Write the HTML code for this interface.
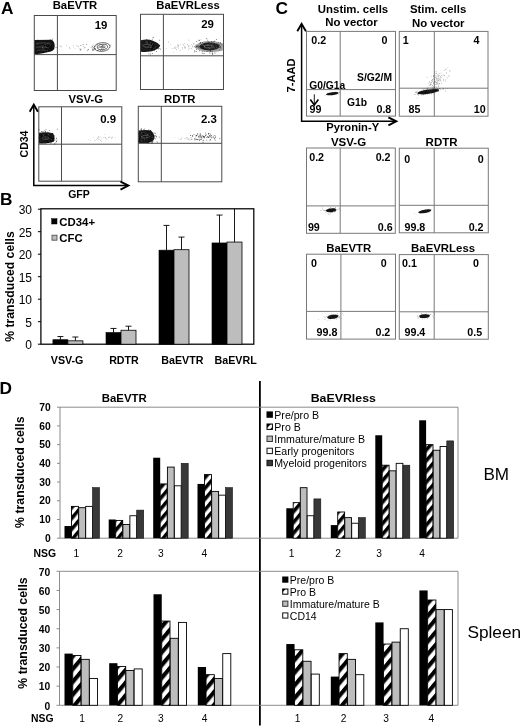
<!DOCTYPE html>
<html lang="en"><head><meta charset="utf-8"><title>Figure</title>
<style>html,body{margin:0;padding:0;background:#fff}body{width:520px;height:728px;overflow:hidden}svg{display:block}text{font-family:"Liberation Sans",Arial,sans-serif;fill:#000}</style>
</head><body>
<svg width="520" height="728" viewBox="0 0 520 728">
<defs><pattern id="hatch" patternUnits="userSpaceOnUse" width="6.9" height="6.9" patternTransform="rotate(-50)"><rect width="6.9" height="6.9" fill="#fff"/><rect y="0" width="6.9" height="3.5" fill="#000"/></pattern><pattern id="hatchS" patternUnits="userSpaceOnUse" width="8.2" height="8.2" patternTransform="rotate(-50)"><rect width="8.2" height="8.2" fill="#fff"/><rect y="0" width="8.2" height="4.1" fill="#000"/></pattern><pattern id="hatch2" patternUnits="userSpaceOnUse" width="5" height="5" patternTransform="rotate(-45)"><rect width="5" height="5" fill="#fff"/><rect y="0" width="5" height="2.4" fill="#000"/></pattern></defs>
<rect x="0" y="0" width="520" height="728" fill="#fff"/>
<g id="panelA">
<text x="0.9" y="13.7" font-size="17.3" font-weight="bold">A</text>
<text x="75" y="9.4" font-size="11.3" font-weight="bold" text-anchor="middle">BaEVTR</text>
<rect x="34.3" y="15.5" width="81.9" height="75" fill="none" stroke="#4a4a4a" stroke-width="1"/>
<line x1="57.4" y1="15.5" x2="57.4" y2="90.5" stroke="#4a4a4a" stroke-width="1"/>
<line x1="34.3" y1="54.6" x2="116.2" y2="54.6" stroke="#4a4a4a" stroke-width="1"/>
<text x="107.3" y="29.2" font-size="11.4" font-weight="bold" text-anchor="end">19</text>
<text x="188" y="9.4" font-size="11.3" font-weight="bold" text-anchor="middle">BaEVRLess</text>
<rect x="140.5" y="14.3" width="83" height="75.2" fill="none" stroke="#4a4a4a" stroke-width="1"/>
<line x1="163.4" y1="14.3" x2="163.4" y2="89.5" stroke="#4a4a4a" stroke-width="1"/>
<line x1="140.5" y1="55.8" x2="223.5" y2="55.8" stroke="#4a4a4a" stroke-width="1"/>
<text x="213.8" y="28.2" font-size="11.4" font-weight="bold" text-anchor="end">29</text>
<text x="85.7" y="103" font-size="11.3" font-weight="bold" text-anchor="middle">VSV-G</text>
<rect x="38.8" y="106.8" width="83" height="74.4" fill="none" stroke="#4a4a4a" stroke-width="1"/>
<line x1="61.5" y1="106.8" x2="61.5" y2="181.2" stroke="#4a4a4a" stroke-width="1"/>
<line x1="38.8" y1="144.2" x2="121.8" y2="144.2" stroke="#4a4a4a" stroke-width="1"/>
<text x="116.1" y="122.7" font-size="11.4" font-weight="bold" text-anchor="end">0.9</text>
<text x="179.8" y="103.3" font-size="11.3" font-weight="bold" text-anchor="middle">RDTR</text>
<rect x="138.3" y="106.3" width="83.5" height="75.5" fill="none" stroke="#4a4a4a" stroke-width="1"/>
<line x1="161.3" y1="106.3" x2="161.3" y2="181.8" stroke="#4a4a4a" stroke-width="1"/>
<line x1="138.3" y1="143.3" x2="221.8" y2="143.3" stroke="#4a4a4a" stroke-width="1"/>
<text x="216.8" y="122.7" font-size="11.4" font-weight="bold" text-anchor="end">2.3</text>
<path d="M34.6 40 L51.5 39.7 Q54.8 41.5 54.7 46 Q54.6 50 51 51.6 L43 53.2 L38 53.9 L34.6 53.9Z" fill="#161616"/>
<path d="M44.32 47.94h0.8v0.8h-0.8zM44.47 44.97h0.8v0.8h-0.8zM40.95 45.33h0.8v0.8h-0.8zM51.16 47.63h0.8v0.8h-0.8zM50.78 47h0.8v0.8h-0.8zM47.57 46.77h0.8v0.8h-0.8zM37.27 49.18h0.8v0.8h-0.8zM48.13 47.9h0.8v0.8h-0.8zM37.14 39.82h0.8v0.8h-0.8zM41.15 44.41h0.8v0.8h-0.8zM47.13 45.93h0.8v0.8h-0.8zM48.2 43.79h0.8v0.8h-0.8zM47.14 47.52h0.8v0.8h-0.8zM42.29 52.28h0.8v0.8h-0.8zM48.38 50.41h0.8v0.8h-0.8zM42.5 43.44h0.8v0.8h-0.8zM43.88 45.72h0.8v0.8h-0.8zM48.76 46.99h0.8v0.8h-0.8zM43.36 42.66h0.8v0.8h-0.8zM43 50.5h0.8v0.8h-0.8zM41.56 46.98h0.8v0.8h-0.8zM47.73 40.74h0.8v0.8h-0.8zM45.84 50.8h0.8v0.8h-0.8zM35.53 44.94h0.8v0.8h-0.8zM45.07 43.16h0.8v0.8h-0.8zM48.09 45.88h0.8v0.8h-0.8zM38.28 49.08h0.8v0.8h-0.8zM48.95 49.51h0.8v0.8h-0.8zM52.8 47.4h0.8v0.8h-0.8zM46.2 41.42h0.8v0.8h-0.8zM48.68 43.9h0.8v0.8h-0.8zM43.34 41.55h0.8v0.8h-0.8zM40.76 44.19h0.8v0.8h-0.8zM52.04 38.79h0.8v0.8h-0.8zM38.31 46.96h0.8v0.8h-0.8zM52.82 48.18h0.8v0.8h-0.8zM47.39 43.45h0.8v0.8h-0.8zM40 49.62h0.8v0.8h-0.8zM51.11 46.67h0.8v0.8h-0.8zM46.83 47.66h0.8v0.8h-0.8zM53.57 48.33h0.8v0.8h-0.8zM48.19 48.07h0.8v0.8h-0.8zM37.76 50.71h0.8v0.8h-0.8zM50.38 48.01h0.8v0.8h-0.8zM35.73 43.82h0.8v0.8h-0.8zM49.81 39.58h0.8v0.8h-0.8zM44.68 49.77h0.8v0.8h-0.8zM39.04 51.9h0.8v0.8h-0.8zM48.36 45.56h0.8v0.8h-0.8zM47.22 48.44h0.8v0.8h-0.8zM46.2 50.22h0.8v0.8h-0.8zM42.29 44.61h0.8v0.8h-0.8zM50.81 46.2h0.8v0.8h-0.8zM41.2 49.51h0.8v0.8h-0.8zM52.93 44.5h0.8v0.8h-0.8zM38.7 45.61h0.8v0.8h-0.8zM44.85 45.03h0.8v0.8h-0.8zM52.62 42.4h0.8v0.8h-0.8zM51.9 41.53h0.8v0.8h-0.8zM41.66 48.37h0.8v0.8h-0.8zM51.24 49.19h0.8v0.8h-0.8zM47.33 46.61h0.8v0.8h-0.8zM46.36 48.17h0.8v0.8h-0.8zM44.72 47.1h0.8v0.8h-0.8zM48.46 46.1h0.8v0.8h-0.8zM49.42 48.14h0.8v0.8h-0.8zM55.65 47.27h0.8v0.8h-0.8zM43.46 44.76h0.8v0.8h-0.8zM45.53 49.43h0.8v0.8h-0.8z" fill="#000" opacity="0.75"/>
<path d="M42.3 46.81h0.7v0.7h-0.7zM39.15 46.38h0.7v0.7h-0.7zM45.24 46.37h0.7v0.7h-0.7zM41.93 47.62h0.7v0.7h-0.7zM44.78 44.08h0.7v0.7h-0.7zM41.43 45.35h0.7v0.7h-0.7zM42.75 45.46h0.7v0.7h-0.7zM47.68 42.14h0.7v0.7h-0.7zM43.38 48.51h0.7v0.7h-0.7zM47.07 50.12h0.7v0.7h-0.7zM36.84 44.59h0.7v0.7h-0.7zM42.29 47.52h0.7v0.7h-0.7z" fill="#8a8a8a" opacity="0.75"/>
<path d="M36 43.5 Q44 42 50.5 44 M36 47.3 Q43 46.3 49 48 M37 50.3 Q42 49.6 46 50.6" fill="none" stroke="#777" stroke-width="0.45"/>
<ellipse cx="102.1" cy="47" rx="7.9" ry="4.3" fill="none" stroke="#3a3a3a" stroke-width="0.75" transform="rotate(-5 102.1 47)"/>
<ellipse cx="102.45" cy="47" rx="5.2" ry="2.6" fill="none" stroke="#3a3a3a" stroke-width="0.75" transform="rotate(-5 102.45 47)"/>
<ellipse cx="102.8" cy="47" rx="2.5" ry="0.9" fill="none" stroke="#3a3a3a" stroke-width="0.75" transform="rotate(-5 102.8 47)"/>
<path d="M99.72 44.24h0.72v0.72h-0.72zM97.08 44.16h0.72v0.72h-0.72zM93.78 49.53h0.72v0.72h-0.72zM91.67 47.52h0.72v0.72h-0.72zM97.82 47.42h0.72v0.72h-0.72zM92.06 50.21h0.72v0.72h-0.72zM99.46 46.55h0.72v0.72h-0.72zM110.48 44.85h0.72v0.72h-0.72zM98.58 46.61h0.72v0.72h-0.72zM93.5 48.55h0.72v0.72h-0.72zM94.08 48.42h0.72v0.72h-0.72zM82.71 44.12h0.72v0.72h-0.72zM96.64 45.21h0.72v0.72h-0.72zM85.97 44.2h0.72v0.72h-0.72zM100.87 48.63h0.72v0.72h-0.72zM102.21 45.26h0.72v0.72h-0.72zM92.65 44.86h0.72v0.72h-0.72zM97.62 50.32h0.72v0.72h-0.72zM86.85 50.26h0.72v0.72h-0.72zM99.06 46.78h0.72v0.72h-0.72zM79.82 49.95h0.72v0.72h-0.72zM92.01 45.93h0.72v0.72h-0.72zM95.24 47.96h0.72v0.72h-0.72zM102.38 45.1h0.72v0.72h-0.72zM100.03 50.11h0.72v0.72h-0.72zM102.08 46.78h0.72v0.72h-0.72zM87.8 49.18h0.72v0.72h-0.72zM93.39 47.39h0.72v0.72h-0.72zM101.9 46.61h0.72v0.72h-0.72zM77.71 46.37h0.72v0.72h-0.72zM80.59 48.78h0.72v0.72h-0.72zM94.7 45.92h0.72v0.72h-0.72zM92.58 48.81h0.72v0.72h-0.72zM93.15 49.79h0.72v0.72h-0.72zM92.24 49.22h0.72v0.72h-0.72zM102.33 50.36h0.72v0.72h-0.72zM88.27 48.9h0.72v0.72h-0.72zM80.45 44.97h0.72v0.72h-0.72zM79.88 49.28h0.72v0.72h-0.72zM84.63 47.11h0.72v0.72h-0.72z" fill="#222" opacity="0.75"/>
<path d="M72.94 46.63h0.66v0.66h-0.66zM69.35 47.02h0.66v0.66h-0.66zM90.79 46.74h0.66v0.66h-0.66zM79.45 48.17h0.66v0.66h-0.66zM72.89 44.78h0.66v0.66h-0.66zM69.67 48.28h0.66v0.66h-0.66zM59.85 45.77h0.66v0.66h-0.66zM83.74 47.86h0.66v0.66h-0.66zM74.74 47.88h0.66v0.66h-0.66zM76.16 44.9h0.66v0.66h-0.66zM60.59 45.71h0.66v0.66h-0.66zM82.97 45.82h0.66v0.66h-0.66zM66.55 45.51h0.66v0.66h-0.66zM60.88 46.49h0.66v0.66h-0.66z" fill="#444" opacity="0.6"/>
<path d="M140.8 40.2 Q148 38.6 153 40.8 Q158.5 43 160.3 45.8 Q158 49.5 152 51.2 Q146 52.4 140.8 51.8Z" fill="#1c1c1c"/>
<path d="M143.7 46.57h0.8v0.8h-0.8zM146.39 39.19h0.8v0.8h-0.8zM153.22 44.52h0.8v0.8h-0.8zM151.06 43.93h0.8v0.8h-0.8zM153.5 47.79h0.8v0.8h-0.8zM152.93 46.45h0.8v0.8h-0.8zM156.27 47.51h0.8v0.8h-0.8zM151.86 38.73h0.8v0.8h-0.8zM154.08 49.59h0.8v0.8h-0.8zM148.12 43.9h0.8v0.8h-0.8zM159.3 39.77h0.8v0.8h-0.8zM151.94 53.16h0.8v0.8h-0.8zM144.96 47.61h0.8v0.8h-0.8zM159.03 45.02h0.8v0.8h-0.8zM152.41 48.29h0.8v0.8h-0.8zM145.07 45.11h0.8v0.8h-0.8zM151.06 48.04h0.8v0.8h-0.8zM149.43 44.77h0.8v0.8h-0.8zM144.52 44.25h0.8v0.8h-0.8zM154.06 45.73h0.8v0.8h-0.8zM145.33 42.71h0.8v0.8h-0.8zM152.79 37.1h0.8v0.8h-0.8zM152.71 46.94h0.8v0.8h-0.8zM158.02 46.77h0.8v0.8h-0.8zM149.26 47.07h0.8v0.8h-0.8zM151.22 43.15h0.8v0.8h-0.8zM156.23 51.19h0.8v0.8h-0.8zM142.59 43.27h0.8v0.8h-0.8zM151.06 45.99h0.8v0.8h-0.8zM147.61 42.28h0.8v0.8h-0.8zM160.2 48.72h0.8v0.8h-0.8zM143.63 41.1h0.8v0.8h-0.8zM158.12 48.57h0.8v0.8h-0.8zM158.7 47.99h0.8v0.8h-0.8zM145.24 46.23h0.8v0.8h-0.8zM149.31 47.07h0.8v0.8h-0.8zM145.96 45h0.8v0.8h-0.8zM151.89 46.61h0.8v0.8h-0.8zM152.79 46.07h0.8v0.8h-0.8zM147.98 47.93h0.8v0.8h-0.8zM149.85 42.76h0.8v0.8h-0.8zM146.47 45.4h0.8v0.8h-0.8zM149.05 45.9h0.8v0.8h-0.8zM149.6 45.96h0.8v0.8h-0.8zM148.93 41.37h0.8v0.8h-0.8zM151.71 48.77h0.8v0.8h-0.8zM151.77 44.79h0.8v0.8h-0.8zM151.83 42.31h0.8v0.8h-0.8zM144.95 47.77h0.8v0.8h-0.8zM144.4 50.45h0.8v0.8h-0.8zM147.69 41.02h0.8v0.8h-0.8zM145.78 47.07h0.8v0.8h-0.8zM152.08 45.97h0.8v0.8h-0.8zM157.02 47.66h0.8v0.8h-0.8zM149.5 47.31h0.8v0.8h-0.8zM157.87 48.51h0.8v0.8h-0.8zM154.72 41.93h0.8v0.8h-0.8zM148.86 47.74h0.8v0.8h-0.8zM148.12 48.82h0.8v0.8h-0.8zM152.58 48.31h0.8v0.8h-0.8zM148.54 53.55h0.8v0.8h-0.8zM155.8 44.71h0.8v0.8h-0.8zM150.05 53.7h0.8v0.8h-0.8zM147.88 48.2h0.8v0.8h-0.8zM154.5 45.42h0.8v0.8h-0.8zM143.76 46h0.8v0.8h-0.8zM151.4 49.01h0.8v0.8h-0.8zM153.51 45.48h0.8v0.8h-0.8zM153.87 47.13h0.8v0.8h-0.8zM150.63 45.58h0.8v0.8h-0.8zM148.38 47.6h0.8v0.8h-0.8zM144.33 43.39h0.8v0.8h-0.8zM149.62 40.72h0.8v0.8h-0.8z" fill="#000" opacity="0.7"/>
<path d="M145.91 41.43h0.7v0.7h-0.7zM144.92 46.59h0.7v0.7h-0.7zM149.92 45.34h0.7v0.7h-0.7zM146.72 42.62h0.7v0.7h-0.7zM154.96 46.48h0.7v0.7h-0.7zM152.02 43.69h0.7v0.7h-0.7zM146.91 41.81h0.7v0.7h-0.7zM150.77 47.32h0.7v0.7h-0.7zM150.17 41.93h0.7v0.7h-0.7zM145.13 42.64h0.7v0.7h-0.7zM147.78 45.95h0.7v0.7h-0.7zM150.19 46.85h0.7v0.7h-0.7zM153.66 47.78h0.7v0.7h-0.7zM142.4 44.44h0.7v0.7h-0.7z" fill="#8a8a8a" opacity="0.75"/>
<ellipse cx="147.5" cy="45.8" rx="4.2" ry="1.5" fill="none" stroke="#888" stroke-width="0.45"/>
<path d="M193.5 46.8 Q200 41 209 41 Q218 41 222.9 43.5 V50.5 Q216 52.3 208 52 Q199 51.5 193.5 46.8Z" fill="#555" opacity="0.55"/>
<ellipse cx="209.5" cy="46.5" rx="10" ry="3.9" fill="#262626"/>
<path d="M199.63 42.85h0.84v0.84h-0.84zM206.97 46.1h0.84v0.84h-0.84zM211.26 41.32h0.84v0.84h-0.84zM198.3 46.01h0.84v0.84h-0.84zM206.08 45.15h0.84v0.84h-0.84zM207.11 43.8h0.84v0.84h-0.84zM212.84 47.14h0.84v0.84h-0.84zM206.92 44.06h0.84v0.84h-0.84zM206.27 37.92h0.84v0.84h-0.84zM200.22 46.19h0.84v0.84h-0.84zM196.3 46.68h0.84v0.84h-0.84zM208.69 41.95h0.84v0.84h-0.84zM205.7 45.14h0.84v0.84h-0.84zM211.03 47.92h0.84v0.84h-0.84zM207.31 43.53h0.84v0.84h-0.84zM206.5 45.88h0.84v0.84h-0.84zM213.09 46.96h0.84v0.84h-0.84zM202.16 42.02h0.84v0.84h-0.84zM204.78 43.86h0.84v0.84h-0.84zM199.24 45.73h0.84v0.84h-0.84zM203.9 46.4h0.84v0.84h-0.84zM211.5 44.84h0.84v0.84h-0.84zM215.84 46.44h0.84v0.84h-0.84zM215.95 38.95h0.84v0.84h-0.84zM201.94 46.82h0.84v0.84h-0.84zM212.1 53.09h0.84v0.84h-0.84zM210 49.92h0.84v0.84h-0.84zM213.33 48.92h0.84v0.84h-0.84zM211.41 45.61h0.84v0.84h-0.84zM211.4 42.85h0.84v0.84h-0.84zM216.44 43.03h0.84v0.84h-0.84zM209.45 52.44h0.84v0.84h-0.84zM205.9 46.14h0.84v0.84h-0.84zM216.3 46.16h0.84v0.84h-0.84zM201.52 46.85h0.84v0.84h-0.84zM211.95 48.21h0.84v0.84h-0.84zM201.79 51.34h0.84v0.84h-0.84zM220.08 46.13h0.84v0.84h-0.84zM209.59 44.79h0.84v0.84h-0.84zM218.19 43.97h0.84v0.84h-0.84zM212.64 44.64h0.84v0.84h-0.84zM202.37 48.24h0.84v0.84h-0.84zM217.58 46.05h0.84v0.84h-0.84zM202.5 48.51h0.84v0.84h-0.84zM207.21 47.01h0.84v0.84h-0.84zM219 49.47h0.84v0.84h-0.84zM203.68 52.93h0.84v0.84h-0.84zM207.61 48.44h0.84v0.84h-0.84zM202.72 45.95h0.84v0.84h-0.84zM194.46 51.44h0.84v0.84h-0.84zM217.82 42.43h0.84v0.84h-0.84zM196.29 41.22h0.84v0.84h-0.84zM216.4 44.7h0.84v0.84h-0.84zM207.13 45.14h0.84v0.84h-0.84zM206.67 42.82h0.84v0.84h-0.84zM207.76 41.77h0.84v0.84h-0.84zM207.04 47.01h0.84v0.84h-0.84zM211.09 45.38h0.84v0.84h-0.84zM200.8 46.56h0.84v0.84h-0.84zM203.95 50.78h0.84v0.84h-0.84zM213.34 45.73h0.84v0.84h-0.84zM204.05 43.97h0.84v0.84h-0.84zM200.55 45.02h0.84v0.84h-0.84zM209.79 47.63h0.84v0.84h-0.84zM211.85 52.38h0.84v0.84h-0.84zM202.29 46.12h0.84v0.84h-0.84zM203.67 46.59h0.84v0.84h-0.84zM208.74 47.3h0.84v0.84h-0.84zM205.79 47.18h0.84v0.84h-0.84zM207.98 48.39h0.84v0.84h-0.84zM193.39 43.42h0.84v0.84h-0.84zM207.56 42.98h0.84v0.84h-0.84zM199.75 47.96h0.84v0.84h-0.84zM202.71 47.98h0.84v0.84h-0.84zM213.17 47h0.84v0.84h-0.84zM211.39 45.77h0.84v0.84h-0.84zM197.01 45.99h0.84v0.84h-0.84zM210.99 44.49h0.84v0.84h-0.84zM206.83 48.33h0.84v0.84h-0.84zM200.99 48h0.84v0.84h-0.84zM221.55 44.42h0.84v0.84h-0.84zM208.68 45.63h0.84v0.84h-0.84zM219.13 47.03h0.84v0.84h-0.84zM214.31 44.01h0.84v0.84h-0.84zM207.46 46.05h0.84v0.84h-0.84zM194.26 50.4h0.84v0.84h-0.84zM214.33 40.83h0.84v0.84h-0.84zM213.16 45.69h0.84v0.84h-0.84zM210.94 47.18h0.84v0.84h-0.84zM196.34 45.44h0.84v0.84h-0.84zM218.77 44.36h0.84v0.84h-0.84zM199.91 42h0.84v0.84h-0.84zM198.42 47.09h0.84v0.84h-0.84zM220.27 47.37h0.84v0.84h-0.84zM209.42 52.78h0.84v0.84h-0.84zM203.68 44.06h0.84v0.84h-0.84zM211.54 47.73h0.84v0.84h-0.84zM199.97 42.57h0.84v0.84h-0.84zM209.76 46.82h0.84v0.84h-0.84zM197.78 45.47h0.84v0.84h-0.84zM203.51 47.46h0.84v0.84h-0.84zM206.7 45.82h0.84v0.84h-0.84zM204.93 49.24h0.84v0.84h-0.84zM218.01 44.98h0.84v0.84h-0.84zM213.93 43.81h0.84v0.84h-0.84zM208.12 48.33h0.84v0.84h-0.84zM218.94 44.93h0.84v0.84h-0.84zM207.02 46.67h0.84v0.84h-0.84zM196.34 46.13h0.84v0.84h-0.84zM202.51 47.19h0.84v0.84h-0.84zM199.11 40.15h0.84v0.84h-0.84zM207.87 46.86h0.84v0.84h-0.84zM203.46 48.75h0.84v0.84h-0.84zM205.53 44.26h0.84v0.84h-0.84zM211.16 41.38h0.84v0.84h-0.84zM202.5 46.02h0.84v0.84h-0.84zM213.95 45.59h0.84v0.84h-0.84zM209.89 44.11h0.84v0.84h-0.84zM209.84 51.07h0.84v0.84h-0.84zM202.43 53.18h0.84v0.84h-0.84zM202.75 46.13h0.84v0.84h-0.84zM208.88 49.15h0.84v0.84h-0.84zM198.3 39.78h0.84v0.84h-0.84zM212.13 48.47h0.84v0.84h-0.84zM212.26 53.97h0.84v0.84h-0.84zM209.12 46.84h0.84v0.84h-0.84zM214.55 47.19h0.84v0.84h-0.84zM220.06 42.37h0.84v0.84h-0.84zM213.67 44.96h0.84v0.84h-0.84zM214.51 52.54h0.84v0.84h-0.84zM207.54 45.32h0.84v0.84h-0.84zM203.83 43.57h0.84v0.84h-0.84zM202.85 48h0.84v0.84h-0.84zM207.86 46.28h0.84v0.84h-0.84zM206.28 48.82h0.84v0.84h-0.84zM211.28 45.65h0.84v0.84h-0.84zM212.57 45.62h0.84v0.84h-0.84zM198.93 50.45h0.84v0.84h-0.84zM211.07 43.21h0.84v0.84h-0.84zM215.67 47.11h0.84v0.84h-0.84zM195.85 50.91h0.84v0.84h-0.84zM210.08 48.75h0.84v0.84h-0.84zM209.06 45.63h0.84v0.84h-0.84zM195.97 48.99h0.84v0.84h-0.84zM207.81 45.22h0.84v0.84h-0.84zM210.21 46.31h0.84v0.84h-0.84zM212.65 44.97h0.84v0.84h-0.84zM207.31 39.66h0.84v0.84h-0.84zM204.41 48.11h0.84v0.84h-0.84zM217.61 44.99h0.84v0.84h-0.84zM206.67 50.83h0.84v0.84h-0.84zM205.14 48.28h0.84v0.84h-0.84zM220.17 46.2h0.84v0.84h-0.84zM216.78 43.95h0.84v0.84h-0.84zM209.14 45.85h0.84v0.84h-0.84zM208.44 49.47h0.84v0.84h-0.84zM203.27 47.57h0.84v0.84h-0.84zM199.67 47.57h0.84v0.84h-0.84zM211.87 45.25h0.84v0.84h-0.84zM211.56 41.43h0.84v0.84h-0.84zM213.28 41.45h0.84v0.84h-0.84zM202.36 44.41h0.84v0.84h-0.84zM204.57 48.66h0.84v0.84h-0.84zM208.19 44.89h0.84v0.84h-0.84zM211.66 50.82h0.84v0.84h-0.84zM207.63 47.18h0.84v0.84h-0.84z" fill="#111" opacity="0.75"/>
<path d="M216.09 46.69h0.7v0.7h-0.7zM208.42 46.98h0.7v0.7h-0.7zM214.44 47.49h0.7v0.7h-0.7zM207.02 44.04h0.7v0.7h-0.7zM209.27 48.22h0.7v0.7h-0.7zM202.11 44.1h0.7v0.7h-0.7zM207.09 45.28h0.7v0.7h-0.7zM211.35 44.75h0.7v0.7h-0.7zM203.36 45.36h0.7v0.7h-0.7zM208.35 44.82h0.7v0.7h-0.7zM208.72 47.65h0.7v0.7h-0.7zM215.76 49.56h0.7v0.7h-0.7zM203.95 45.31h0.7v0.7h-0.7zM204.3 46.08h0.7v0.7h-0.7zM211.79 43.43h0.7v0.7h-0.7zM211.43 46.1h0.7v0.7h-0.7zM197.69 46.73h0.7v0.7h-0.7z" fill="#8a8a8a" opacity="0.75"/>
<ellipse cx="209" cy="46.6" rx="5" ry="1.4" fill="none" stroke="#999" stroke-width="0.45"/>
<path d="M187.94 46.72h0.64v0.64h-0.64zM184.95 47.33h0.64v0.64h-0.64zM192.42 45.6h0.64v0.64h-0.64zM188.54 45.11h0.64v0.64h-0.64zM187.23 44.06h0.64v0.64h-0.64zM179.7 50.68h0.64v0.64h-0.64zM184.69 45.77h0.64v0.64h-0.64zM170.38 44.13h0.64v0.64h-0.64zM182.42 48.62h0.64v0.64h-0.64zM184.51 47.54h0.64v0.64h-0.64zM180.3 49.7h0.64v0.64h-0.64zM177.16 44.75h0.64v0.64h-0.64zM188.67 46.35h0.64v0.64h-0.64zM178.17 44.68h0.64v0.64h-0.64zM178.37 47.8h0.64v0.64h-0.64zM183.86 43.03h0.64v0.64h-0.64zM184.52 46.65h0.64v0.64h-0.64zM171.68 48.19h0.64v0.64h-0.64zM178.16 45.31h0.64v0.64h-0.64zM187.84 49.61h0.64v0.64h-0.64zM174.48 47.32h0.64v0.64h-0.64zM172.8 52.2h0.64v0.64h-0.64zM176.24 49.29h0.64v0.64h-0.64zM174.85 48.29h0.64v0.64h-0.64zM200.65 39.57h0.64v0.64h-0.64zM176.77 47.48h0.64v0.64h-0.64zM179.84 44.44h0.64v0.64h-0.64zM200.05 46.39h0.64v0.64h-0.64zM165.88 48.4h0.64v0.64h-0.64zM175.48 46.56h0.64v0.64h-0.64zM192.03 46.49h0.64v0.64h-0.64zM168.16 41.77h0.64v0.64h-0.64zM191.32 48.11h0.64v0.64h-0.64zM173.34 48.41h0.64v0.64h-0.64zM185.15 47.86h0.64v0.64h-0.64zM188.78 48.09h0.64v0.64h-0.64zM188.61 39.79h0.64v0.64h-0.64zM182.2 47.46h0.64v0.64h-0.64zM203.65 43.7h0.64v0.64h-0.64zM177.72 46.27h0.64v0.64h-0.64zM188.65 45.03h0.64v0.64h-0.64zM191.01 44.13h0.64v0.64h-0.64zM183.08 44.81h0.64v0.64h-0.64zM182.1 44.38h0.64v0.64h-0.64z" fill="#3a3a3a" opacity="0.6"/>
<path d="M39 132.8 Q44 131.6 49 132.6 L53 133.2 Q55.5 137 54 141.5 Q49 143.8 39 143.6Z" fill="#1a1a1a"/>
<path d="M47.66 135.68h0.84v0.84h-0.84zM47.12 140.95h0.84v0.84h-0.84zM41 137.2h0.84v0.84h-0.84zM48.88 139.37h0.84v0.84h-0.84zM44.34 130.42h0.84v0.84h-0.84zM52.54 138.7h0.84v0.84h-0.84zM46.15 136.63h0.84v0.84h-0.84zM47.45 136.13h0.84v0.84h-0.84zM40.75 135.06h0.84v0.84h-0.84zM42.98 135.5h0.84v0.84h-0.84zM40.05 139.74h0.84v0.84h-0.84zM39.27 139.82h0.84v0.84h-0.84zM40.8 138.78h0.84v0.84h-0.84zM53.23 138.27h0.84v0.84h-0.84zM42.28 137.74h0.84v0.84h-0.84zM46.85 131.69h0.84v0.84h-0.84zM42.92 138.13h0.84v0.84h-0.84zM43.64 137.85h0.84v0.84h-0.84zM49.9 140.19h0.84v0.84h-0.84zM50.79 139.58h0.84v0.84h-0.84zM44.58 137.52h0.84v0.84h-0.84zM44.67 136.52h0.84v0.84h-0.84zM45.15 131.72h0.84v0.84h-0.84zM44.35 137.5h0.84v0.84h-0.84zM41.02 137.5h0.84v0.84h-0.84zM48.76 137.02h0.84v0.84h-0.84zM56.88 128.72h0.84v0.84h-0.84zM45.01 131.37h0.84v0.84h-0.84zM48.78 136.55h0.84v0.84h-0.84zM48.95 129.95h0.84v0.84h-0.84zM50.51 138.84h0.84v0.84h-0.84zM46.2 135.58h0.84v0.84h-0.84zM49.4 135.93h0.84v0.84h-0.84zM47.24 135.85h0.84v0.84h-0.84zM47.13 140.14h0.84v0.84h-0.84zM41.52 137.47h0.84v0.84h-0.84zM49.29 138.07h0.84v0.84h-0.84zM41.36 131.05h0.84v0.84h-0.84zM50.53 142.78h0.84v0.84h-0.84zM50.88 140.35h0.84v0.84h-0.84zM42.86 135.15h0.84v0.84h-0.84zM50.7 134.48h0.84v0.84h-0.84zM42.51 135.1h0.84v0.84h-0.84zM47.28 135.03h0.84v0.84h-0.84zM52.89 137.31h0.84v0.84h-0.84zM40.43 142.03h0.84v0.84h-0.84zM43.05 138.33h0.84v0.84h-0.84zM46.01 136.51h0.84v0.84h-0.84zM47.77 135.23h0.84v0.84h-0.84zM39.49 135h0.84v0.84h-0.84zM45.96 137.77h0.84v0.84h-0.84zM48.97 137.99h0.84v0.84h-0.84zM41.95 135.17h0.84v0.84h-0.84zM48.6 139.38h0.84v0.84h-0.84zM45.45 136.99h0.84v0.84h-0.84zM50.95 137.63h0.84v0.84h-0.84zM49.92 139.56h0.84v0.84h-0.84zM47.19 142.02h0.84v0.84h-0.84zM43.1 136.36h0.84v0.84h-0.84zM41.88 134.87h0.84v0.84h-0.84zM54.17 143.56h0.84v0.84h-0.84zM46.2 139.51h0.84v0.84h-0.84zM52.19 140.33h0.84v0.84h-0.84zM52.35 133.29h0.84v0.84h-0.84zM42.76 139.12h0.84v0.84h-0.84zM53.54 137.93h0.84v0.84h-0.84zM41.62 136.37h0.84v0.84h-0.84zM42.64 134.66h0.84v0.84h-0.84zM53.89 135.45h0.84v0.84h-0.84zM52.24 138.72h0.84v0.84h-0.84zM42.9 138.98h0.84v0.84h-0.84zM54.51 139.7h0.84v0.84h-0.84zM52.64 137.91h0.84v0.84h-0.84zM48.76 136.9h0.84v0.84h-0.84zM48.3 142h0.84v0.84h-0.84zM38.64 137.37h0.84v0.84h-0.84zM47.33 135.64h0.84v0.84h-0.84zM44.48 140.26h0.84v0.84h-0.84zM56.49 139.72h0.84v0.84h-0.84zM47.78 132.31h0.84v0.84h-0.84zM56.1 137.84h0.84v0.84h-0.84zM45.9 133.78h0.84v0.84h-0.84zM45.78 133.85h0.84v0.84h-0.84zM46.45 139.17h0.84v0.84h-0.84zM46.24 138.53h0.84v0.84h-0.84zM41.65 142.44h0.84v0.84h-0.84zM42.68 131.4h0.84v0.84h-0.84zM45.1 134.98h0.84v0.84h-0.84zM40.83 136.37h0.84v0.84h-0.84zM47.59 133.56h0.84v0.84h-0.84zM45.36 142.43h0.84v0.84h-0.84zM49.63 137.06h0.84v0.84h-0.84zM46.74 137.17h0.84v0.84h-0.84zM45.83 140.07h0.84v0.84h-0.84zM45.6 129.4h0.84v0.84h-0.84zM45.97 134.56h0.84v0.84h-0.84zM49.47 135.5h0.84v0.84h-0.84zM40.64 133.76h0.84v0.84h-0.84zM38.74 129.44h0.84v0.84h-0.84zM42.76 131.23h0.84v0.84h-0.84zM42.05 136.33h0.84v0.84h-0.84zM47.8 142.19h0.84v0.84h-0.84zM56.17 141.09h0.84v0.84h-0.84zM46.83 138.21h0.84v0.84h-0.84zM55.45 142.44h0.84v0.84h-0.84zM44.47 139.14h0.84v0.84h-0.84zM47.57 137.76h0.84v0.84h-0.84z" fill="#000" opacity="0.72"/>
<path d="M42.9 135h0.7v0.7h-0.7zM42.78 134.56h0.7v0.7h-0.7zM48.93 138.72h0.7v0.7h-0.7zM40.43 140.44h0.7v0.7h-0.7zM47.77 133.83h0.7v0.7h-0.7zM51.09 139.27h0.7v0.7h-0.7zM46.51 138.5h0.7v0.7h-0.7zM45.36 137.99h0.7v0.7h-0.7zM48.34 134.66h0.7v0.7h-0.7z" fill="#8a8a8a" opacity="0.75"/>
<ellipse cx="45.5" cy="138.2" rx="3.6" ry="1.3" fill="none" stroke="#888" stroke-width="0.45"/>
<path d="M92.74 137.2h0.64v0.64h-0.64zM98.22 137.6h0.64v0.64h-0.64zM105.62 137.91h0.64v0.64h-0.64zM102.93 137.04h0.64v0.64h-0.64zM99.14 139.38h0.64v0.64h-0.64zM108.79 137.39h0.64v0.64h-0.64zM100.1 140h0.64v0.64h-0.64zM97.93 139.13h0.64v0.64h-0.64zM111.91 136.64h0.64v0.64h-0.64zM109.28 135.88h0.64v0.64h-0.64zM110.78 137.31h0.64v0.64h-0.64zM89.99 139.95h0.64v0.64h-0.64zM95.54 140.13h0.64v0.64h-0.64zM97.25 138.23h0.64v0.64h-0.64zM104.94 137.25h0.64v0.64h-0.64zM104.76 137.01h0.64v0.64h-0.64zM108.05 137.35h0.64v0.64h-0.64zM104.37 134.41h0.64v0.64h-0.64zM111.97 136.99h0.64v0.64h-0.64zM88.42 139.42h0.64v0.64h-0.64zM106.42 138.79h0.64v0.64h-0.64zM94.02 140.6h0.64v0.64h-0.64zM101.41 140.88h0.64v0.64h-0.64zM101.51 138.81h0.64v0.64h-0.64zM99.75 136.83h0.64v0.64h-0.64zM111.45 138.09h0.64v0.64h-0.64zM114.99 137.68h0.64v0.64h-0.64zM98.09 136.34h0.64v0.64h-0.64zM97.48 137.59h0.64v0.64h-0.64zM96.16 139.23h0.64v0.64h-0.64z" fill="#666" opacity="0.65"/>
<path d="M138.6 130.6 Q146 129.4 151 130.6 Q154.8 134 154.5 138.5 Q153 142.3 147 143 L138.6 143Z" fill="#1e1e1e"/>
<path d="M147.78 135.11h0.84v0.84h-0.84zM146.98 135.56h0.84v0.84h-0.84zM147.19 138.79h0.84v0.84h-0.84zM151.07 133.61h0.84v0.84h-0.84zM138.24 141.22h0.84v0.84h-0.84zM146.68 140.06h0.84v0.84h-0.84zM146.22 130.89h0.84v0.84h-0.84zM143.4 138.69h0.84v0.84h-0.84zM151.69 141.82h0.84v0.84h-0.84zM141.59 131.04h0.84v0.84h-0.84zM148.79 139.47h0.84v0.84h-0.84zM147.08 131.39h0.84v0.84h-0.84zM150.15 138.93h0.84v0.84h-0.84zM148.96 134.33h0.84v0.84h-0.84zM147.66 138.93h0.84v0.84h-0.84zM143.17 129.44h0.84v0.84h-0.84zM147.79 137.81h0.84v0.84h-0.84zM146.15 139.28h0.84v0.84h-0.84zM143.03 135.78h0.84v0.84h-0.84zM144.49 138.14h0.84v0.84h-0.84zM154.38 135.18h0.84v0.84h-0.84zM156.77 141.58h0.84v0.84h-0.84zM150.19 138.19h0.84v0.84h-0.84zM155.29 135.43h0.84v0.84h-0.84zM145.5 132.25h0.84v0.84h-0.84zM148.54 140.92h0.84v0.84h-0.84zM148.85 137.6h0.84v0.84h-0.84zM145.04 136.69h0.84v0.84h-0.84zM138.67 139.86h0.84v0.84h-0.84zM143.95 132.1h0.84v0.84h-0.84zM142.17 133.11h0.84v0.84h-0.84zM150.53 139.89h0.84v0.84h-0.84zM139.02 139.41h0.84v0.84h-0.84zM150.7 133.99h0.84v0.84h-0.84zM138.35 133.4h0.84v0.84h-0.84zM142.78 137.31h0.84v0.84h-0.84zM144.22 128.78h0.84v0.84h-0.84zM147.29 130.56h0.84v0.84h-0.84zM150.79 131.74h0.84v0.84h-0.84zM142.48 133h0.84v0.84h-0.84zM143.26 140.75h0.84v0.84h-0.84zM150.51 138.25h0.84v0.84h-0.84zM147.74 130.51h0.84v0.84h-0.84zM143.37 134.09h0.84v0.84h-0.84zM141 137.91h0.84v0.84h-0.84zM142.23 133.52h0.84v0.84h-0.84zM140.65 128.67h0.84v0.84h-0.84zM149.18 140.87h0.84v0.84h-0.84zM146.99 132.56h0.84v0.84h-0.84zM152.4 137.15h0.84v0.84h-0.84zM150.9 141.4h0.84v0.84h-0.84zM151.94 134.49h0.84v0.84h-0.84zM151.55 138.87h0.84v0.84h-0.84zM138.68 135.69h0.84v0.84h-0.84zM149.09 132.24h0.84v0.84h-0.84zM148.04 141.38h0.84v0.84h-0.84zM139.2 139.9h0.84v0.84h-0.84zM144.99 137.05h0.84v0.84h-0.84zM145.28 139.67h0.84v0.84h-0.84zM151.48 136.39h0.84v0.84h-0.84zM139.01 138.75h0.84v0.84h-0.84zM143.64 138.34h0.84v0.84h-0.84zM147.45 141.93h0.84v0.84h-0.84zM152 134.46h0.84v0.84h-0.84zM147.89 142.43h0.84v0.84h-0.84zM143.29 137.64h0.84v0.84h-0.84zM152.27 140.6h0.84v0.84h-0.84zM148.78 131.33h0.84v0.84h-0.84zM139.52 136.97h0.84v0.84h-0.84zM141.6 140.18h0.84v0.84h-0.84zM150.09 130.06h0.84v0.84h-0.84zM141.82 136.68h0.84v0.84h-0.84zM143.51 135.52h0.84v0.84h-0.84zM148.52 133.17h0.84v0.84h-0.84zM148.51 133.79h0.84v0.84h-0.84zM143.25 138.01h0.84v0.84h-0.84zM143.1 137.11h0.84v0.84h-0.84zM154.4 136.18h0.84v0.84h-0.84zM145.32 138.73h0.84v0.84h-0.84zM144.18 139.98h0.84v0.84h-0.84zM139.41 138.31h0.84v0.84h-0.84zM143.42 133.2h0.84v0.84h-0.84zM155.28 133.02h0.84v0.84h-0.84zM155.21 138.45h0.84v0.84h-0.84zM153.64 132.56h0.84v0.84h-0.84zM152.31 141.32h0.84v0.84h-0.84zM145.47 135.62h0.84v0.84h-0.84zM158.85 136.72h0.84v0.84h-0.84zM143.88 133.81h0.84v0.84h-0.84zM148.4 137.27h0.84v0.84h-0.84zM147 142.28h0.84v0.84h-0.84zM144.38 137.78h0.84v0.84h-0.84zM153.67 132.47h0.84v0.84h-0.84zM151.48 142.68h0.84v0.84h-0.84zM139.04 132.13h0.84v0.84h-0.84zM140.68 129.43h0.84v0.84h-0.84zM148.43 129.4h0.84v0.84h-0.84zM148.67 141.31h0.84v0.84h-0.84zM142.25 135.12h0.84v0.84h-0.84zM146.36 138.04h0.84v0.84h-0.84zM144.28 136.13h0.84v0.84h-0.84zM143.24 136.49h0.84v0.84h-0.84zM139.98 136.31h0.84v0.84h-0.84zM156.04 136.37h0.84v0.84h-0.84zM139.53 137.01h0.84v0.84h-0.84zM141.02 130.14h0.84v0.84h-0.84zM142.25 138.73h0.84v0.84h-0.84zM148.08 135.73h0.84v0.84h-0.84zM141.26 132.2h0.84v0.84h-0.84zM153.1 136.96h0.84v0.84h-0.84zM141.13 128.48h0.84v0.84h-0.84z" fill="#000" opacity="0.72"/>
<path d="M141.05 135.95h0.7v0.7h-0.7zM146.49 135.74h0.7v0.7h-0.7zM144.54 132.58h0.7v0.7h-0.7zM141.45 140.54h0.7v0.7h-0.7zM142.62 138.35h0.7v0.7h-0.7zM146.69 138.84h0.7v0.7h-0.7zM141.16 137.7h0.7v0.7h-0.7zM147.19 134.23h0.7v0.7h-0.7zM147.56 133.82h0.7v0.7h-0.7zM142.47 136.1h0.7v0.7h-0.7zM141.65 132.35h0.7v0.7h-0.7zM143.95 138.13h0.7v0.7h-0.7zM144.03 139.44h0.7v0.7h-0.7zM141.01 132.74h0.7v0.7h-0.7zM151.85 137.19h0.7v0.7h-0.7z" fill="#8a8a8a" opacity="0.75"/>
<ellipse cx="145.5" cy="136.6" rx="3.8" ry="1.3" fill="none" stroke="#888" stroke-width="0.45"/>
<path d="M209.24 135.02h0.8v0.8h-0.8zM208.33 137.13h0.8v0.8h-0.8zM207.32 136.74h0.8v0.8h-0.8zM210.94 135.27h0.8v0.8h-0.8zM196.84 134.41h0.8v0.8h-0.8zM210.64 135.12h0.8v0.8h-0.8zM196.32 135.45h0.8v0.8h-0.8zM200.21 134.63h0.8v0.8h-0.8zM201.21 135.8h0.8v0.8h-0.8zM199.52 135.26h0.8v0.8h-0.8zM203.34 136.01h0.8v0.8h-0.8zM203.85 137.34h0.8v0.8h-0.8zM205.31 132.63h0.8v0.8h-0.8zM199.62 135.56h0.8v0.8h-0.8zM208.13 133.65h0.8v0.8h-0.8zM198.46 136.57h0.8v0.8h-0.8zM200.91 138.89h0.8v0.8h-0.8zM200.22 138.88h0.8v0.8h-0.8zM193.57 133.93h0.8v0.8h-0.8zM211.03 137.33h0.8v0.8h-0.8zM206.27 136.98h0.8v0.8h-0.8zM206.25 134.43h0.8v0.8h-0.8zM209.27 135.58h0.8v0.8h-0.8zM209.51 136.75h0.8v0.8h-0.8zM190.27 135.1h0.8v0.8h-0.8zM210.43 136.27h0.8v0.8h-0.8zM200.53 137.49h0.8v0.8h-0.8zM200.34 136h0.8v0.8h-0.8zM203.77 137.14h0.8v0.8h-0.8zM212.96 136.49h0.8v0.8h-0.8zM215.32 139.71h0.8v0.8h-0.8zM214.26 138.36h0.8v0.8h-0.8zM203.95 137.12h0.8v0.8h-0.8zM202.17 135.56h0.8v0.8h-0.8zM202.67 135.7h0.8v0.8h-0.8zM213.76 137.38h0.8v0.8h-0.8zM200.2 133.41h0.8v0.8h-0.8zM202.75 136.13h0.8v0.8h-0.8zM196.04 135.09h0.8v0.8h-0.8zM188.47 138.71h0.8v0.8h-0.8zM202.67 141.83h0.8v0.8h-0.8zM202.9 136.63h0.8v0.8h-0.8zM212.49 136.69h0.8v0.8h-0.8zM204.19 136.14h0.8v0.8h-0.8zM199.17 139.95h0.8v0.8h-0.8zM209.6 139.84h0.8v0.8h-0.8zM200.83 137.07h0.8v0.8h-0.8zM197.37 139.02h0.8v0.8h-0.8zM194.04 138.43h0.8v0.8h-0.8zM210.22 139.23h0.8v0.8h-0.8zM196.99 139.28h0.8v0.8h-0.8zM198.46 135.69h0.8v0.8h-0.8zM194.5 139.53h0.8v0.8h-0.8zM213.82 135.23h0.8v0.8h-0.8zM198.16 136.5h0.8v0.8h-0.8zM219.4 137.99h0.8v0.8h-0.8zM199.57 133.67h0.8v0.8h-0.8zM198.73 139.37h0.8v0.8h-0.8zM215.24 135.79h0.8v0.8h-0.8zM198.61 136.16h0.8v0.8h-0.8zM190.84 139.24h0.8v0.8h-0.8zM196.04 139.27h0.8v0.8h-0.8zM192 135.04h0.8v0.8h-0.8zM204.97 135.36h0.8v0.8h-0.8zM208.18 136.66h0.8v0.8h-0.8zM195.46 138.46h0.8v0.8h-0.8zM208.57 132.99h0.8v0.8h-0.8zM214.97 137.25h0.8v0.8h-0.8zM208.04 133.12h0.8v0.8h-0.8zM198.42 136.47h0.8v0.8h-0.8zM210.1 133.78h0.8v0.8h-0.8zM197.36 133.33h0.8v0.8h-0.8zM201.53 137.64h0.8v0.8h-0.8zM192.14 136.32h0.8v0.8h-0.8zM206.42 139.75h0.8v0.8h-0.8zM207.42 136.11h0.8v0.8h-0.8zM195.44 135.5h0.8v0.8h-0.8zM198.78 137.4h0.8v0.8h-0.8zM202.78 140.08h0.8v0.8h-0.8zM204.97 134.77h0.8v0.8h-0.8z" fill="#1a1a1a" opacity="0.8"/>
<path d="M194.97 139.34h0.6v0.6h-0.6zM186.31 137.33h0.6v0.6h-0.6zM174.48 136.97h0.6v0.6h-0.6zM191.17 137.24h0.6v0.6h-0.6zM177.78 138.43h0.6v0.6h-0.6zM187.16 138.93h0.6v0.6h-0.6zM189.63 139.89h0.6v0.6h-0.6zM180.66 139.37h0.6v0.6h-0.6zM179.78 139.03h0.6v0.6h-0.6zM186.77 138.49h0.6v0.6h-0.6zM191.51 138.18h0.6v0.6h-0.6zM192.37 139.25h0.6v0.6h-0.6zM186.51 137.52h0.6v0.6h-0.6zM181.18 137.57h0.6v0.6h-0.6zM184.49 138.17h0.6v0.6h-0.6zM203.59 138.97h0.6v0.6h-0.6zM190.32 137.17h0.6v0.6h-0.6zM181.44 137.82h0.6v0.6h-0.6zM186.85 136.96h0.6v0.6h-0.6zM195.37 137.52h0.6v0.6h-0.6zM192.17 135.4h0.6v0.6h-0.6zM185.66 138.53h0.6v0.6h-0.6z" fill="#666" opacity="0.6"/>
<path d="M33.8 105.5 V185.6 H127.5" fill="none" stroke="#000" stroke-width="1.5"/>
<path d="M29.7 111.8 L33.8 104.6 L37.9 111.8" fill="none" stroke="#000" stroke-width="1.9" stroke-linejoin="miter"/>
<path d="M120.5 181.6 L128.4 185.6 L120.5 189.6" fill="none" stroke="#000" stroke-width="1.9" stroke-linejoin="miter"/>
<text x="0" y="0" font-size="10.5" font-weight="bold" text-anchor="middle" transform="translate(27.5 144) rotate(-90)">CD34</text>
<text x="79" y="198" font-size="10.5" font-weight="bold" text-anchor="middle">GFP</text>
</g>
<g id="panelB">
<text x="0" y="205" font-size="17.3" font-weight="bold">B</text>
<rect x="40.9" y="208.8" width="212.9" height="135.4" fill="none" stroke="#000" stroke-width="1.25"/>
<line x1="37.9" y1="344.2" x2="40.9" y2="344.2" stroke="#000" stroke-width="1"/>
<text x="32" y="349.4" font-size="12" text-anchor="end">0</text>
<line x1="37.9" y1="321.7" x2="40.9" y2="321.7" stroke="#000" stroke-width="1"/>
<text x="32" y="326.9" font-size="12" text-anchor="end">5</text>
<line x1="37.9" y1="299.2" x2="40.9" y2="299.2" stroke="#000" stroke-width="1"/>
<text x="32" y="304.4" font-size="12" text-anchor="end">10</text>
<line x1="37.9" y1="276.7" x2="40.9" y2="276.7" stroke="#000" stroke-width="1"/>
<text x="32" y="281.9" font-size="12" text-anchor="end">15</text>
<line x1="37.9" y1="254.2" x2="40.9" y2="254.2" stroke="#000" stroke-width="1"/>
<text x="32" y="259.4" font-size="12" text-anchor="end">20</text>
<line x1="37.9" y1="231.7" x2="40.9" y2="231.7" stroke="#000" stroke-width="1"/>
<text x="32" y="236.9" font-size="12" text-anchor="end">25</text>
<line x1="37.9" y1="209.2" x2="40.9" y2="209.2" stroke="#000" stroke-width="1"/>
<text x="32" y="214.4" font-size="12" text-anchor="end">30</text>
<text x="0" y="0" font-size="12.2" font-weight="bold" text-anchor="middle" transform="translate(13.8 286.5) rotate(-90)">% transduced cells</text>
<rect x="52.9" y="339.7" width="15" height="4.5" fill="#000" stroke="#000" stroke-width="0.6"/>
<rect x="67.9" y="340.82" width="15" height="3.38" fill="#bdbdbd" stroke="#000" stroke-width="0.8"/>
<line x1="60.4" y1="339.7" x2="60.4" y2="336.55" stroke="#000" stroke-width="0.9"/>
<line x1="57.4" y1="336.55" x2="63.4" y2="336.55" stroke="#000" stroke-width="0.9"/>
<line x1="75.4" y1="340.82" x2="75.4" y2="337" stroke="#000" stroke-width="0.9"/>
<line x1="72.4" y1="337" x2="78.4" y2="337" stroke="#000" stroke-width="0.9"/>
<text x="67.1" y="363.8" font-size="10.7" font-weight="bold" text-anchor="middle">VSV-G</text>
<rect x="106" y="332.5" width="15" height="11.7" fill="#000" stroke="#000" stroke-width="0.6"/>
<rect x="121" y="330.25" width="15" height="13.95" fill="#bdbdbd" stroke="#000" stroke-width="0.8"/>
<line x1="113.5" y1="332.5" x2="113.5" y2="328.45" stroke="#000" stroke-width="0.9"/>
<line x1="110.5" y1="328.45" x2="116.5" y2="328.45" stroke="#000" stroke-width="0.9"/>
<line x1="128.5" y1="330.25" x2="128.5" y2="326.2" stroke="#000" stroke-width="0.9"/>
<line x1="125.5" y1="326.2" x2="131.5" y2="326.2" stroke="#000" stroke-width="0.9"/>
<text x="124" y="363.8" font-size="10.7" font-weight="bold" text-anchor="middle">RDTR</text>
<rect x="159" y="250.15" width="15" height="94.05" fill="#000" stroke="#000" stroke-width="0.6"/>
<rect x="174" y="249.7" width="15" height="94.5" fill="#bdbdbd" stroke="#000" stroke-width="0.8"/>
<line x1="166.5" y1="250.15" x2="166.5" y2="225.4" stroke="#000" stroke-width="0.9"/>
<line x1="163.5" y1="225.4" x2="169.5" y2="225.4" stroke="#000" stroke-width="0.9"/>
<line x1="181.5" y1="249.7" x2="181.5" y2="237.1" stroke="#000" stroke-width="0.9"/>
<line x1="178.5" y1="237.1" x2="184.5" y2="237.1" stroke="#000" stroke-width="0.9"/>
<text x="182.4" y="363.8" font-size="10.7" font-weight="bold" text-anchor="middle">BaEVTR</text>
<rect x="212" y="242.95" width="15" height="101.25" fill="#000" stroke="#000" stroke-width="0.6"/>
<rect x="227" y="242.05" width="15" height="102.15" fill="#bdbdbd" stroke="#000" stroke-width="0.8"/>
<line x1="219.5" y1="242.95" x2="219.5" y2="215.05" stroke="#000" stroke-width="0.9"/>
<line x1="216.5" y1="215.05" x2="222.5" y2="215.05" stroke="#000" stroke-width="0.9"/>
<line x1="234.5" y1="242.05" x2="234.5" y2="208.8" stroke="#000" stroke-width="0.9"/>
<text x="235.6" y="363.8" font-size="10.7" font-weight="bold" text-anchor="middle">BaEVRL</text>
<rect x="51.7" y="218.7" width="5.3" height="5.3" fill="#000" stroke="#000" stroke-width="0.5"/>
<text x="59.3" y="225.9" font-size="11.4" font-weight="bold">CD34+</text>
<rect x="52" y="235.2" width="5" height="5" fill="#bdbdbd" stroke="#444" stroke-width="0.8"/>
<text x="59.3" y="242.4" font-size="11.4" font-weight="bold">CFC</text>
</g>
<g id="panelC">
<text x="275.6" y="13.7" font-size="17.3" font-weight="bold">C</text>
<text x="353" y="12.6" font-size="11.4" font-weight="bold" text-anchor="middle">Unstim. cells</text>
<text x="351.5" y="26.2" font-size="11.4" font-weight="bold" text-anchor="middle">No vector</text>
<text x="438.1" y="13" font-size="11.4" font-weight="bold" text-anchor="middle">Stim. cells</text>
<text x="438.3" y="26.7" font-size="11.4" font-weight="bold" text-anchor="middle">No vector</text>
<text x="352.7" y="131" font-size="11.2" font-weight="bold" text-anchor="middle">Pyronin-Y</text>
<text x="348.5" y="145.7" font-size="11.5" font-weight="bold" text-anchor="middle">VSV-G</text>
<text x="441.6" y="145.8" font-size="11.5" font-weight="bold" text-anchor="middle">RDTR</text>
<text x="348.8" y="251.6" font-size="11.4" font-weight="bold" text-anchor="middle">BaEVTR</text>
<text x="443.1" y="251.8" font-size="11.4" font-weight="bold" text-anchor="middle">BaEVRLess</text>
<text x="0" y="0" font-size="11.2" font-weight="bold" text-anchor="middle" transform="translate(295.4 75.4) rotate(-90)">7-AAD</text>
<rect x="306.5" y="31.4" width="89" height="84.7" fill="none" stroke="#787878" stroke-width="1"/>
<line x1="340.2" y1="31.4" x2="340.2" y2="116.1" stroke="#787878" stroke-width="1"/>
<line x1="306.5" y1="89.6" x2="395.5" y2="89.6" stroke="#787878" stroke-width="1"/>
<rect x="399.3" y="31.4" width="88.7" height="84.8" fill="none" stroke="#787878" stroke-width="1"/>
<line x1="434.3" y1="31.4" x2="434.3" y2="116.2" stroke="#787878" stroke-width="1"/>
<line x1="399.3" y1="88.2" x2="488" y2="88.2" stroke="#787878" stroke-width="1"/>
<rect x="306.5" y="148" width="88.8" height="85.3" fill="none" stroke="#787878" stroke-width="1"/>
<line x1="340.2" y1="148" x2="340.2" y2="233.3" stroke="#787878" stroke-width="1"/>
<line x1="306.5" y1="205.9" x2="395.3" y2="205.9" stroke="#787878" stroke-width="1"/>
<rect x="399.3" y="148.2" width="89" height="84.6" fill="none" stroke="#787878" stroke-width="1"/>
<line x1="434.2" y1="148.2" x2="434.2" y2="232.8" stroke="#787878" stroke-width="1"/>
<line x1="399.3" y1="205.3" x2="488.3" y2="205.3" stroke="#787878" stroke-width="1"/>
<rect x="306.5" y="254.2" width="89" height="84.9" fill="none" stroke="#787878" stroke-width="1"/>
<line x1="340.9" y1="254.2" x2="340.9" y2="339.1" stroke="#787878" stroke-width="1"/>
<line x1="306.5" y1="311.4" x2="395.5" y2="311.4" stroke="#787878" stroke-width="1"/>
<rect x="399.3" y="254.6" width="89" height="84.6" fill="none" stroke="#787878" stroke-width="1"/>
<line x1="434.2" y1="254.6" x2="434.2" y2="339.2" stroke="#787878" stroke-width="1"/>
<line x1="399.3" y1="311.8" x2="488.3" y2="311.8" stroke="#787878" stroke-width="1"/>
<text x="0" y="0" font-size="10.1" font-weight="bold" transform="translate(311.3 43.9) scale(1.06 1)">0.2</text>
<text x="0" y="0" font-size="10.1" font-weight="bold" text-anchor="end" transform="translate(387.5 43.6) scale(1.06 1)">0</text>
<text x="0" y="0" font-size="10.1" font-weight="bold" transform="translate(309.5 112.6) scale(1.06 1)">99</text>
<text x="0" y="0" font-size="10.1" font-weight="bold" text-anchor="end" transform="translate(391.3 112.5) scale(1.06 1)">0.8</text>
<text x="0" y="0" font-size="10.1" font-weight="bold" transform="translate(402.8 43.8) scale(1.06 1)">1</text>
<text x="0" y="0" font-size="10.1" font-weight="bold" text-anchor="end" transform="translate(479.5 43.8) scale(1.06 1)">4</text>
<text x="0" y="0" font-size="10.1" font-weight="bold" transform="translate(408.5 112.6) scale(1.06 1)">85</text>
<text x="0" y="0" font-size="10.1" font-weight="bold" text-anchor="end" transform="translate(485.6 112.6) scale(1.06 1)">10</text>
<text x="0" y="0" font-size="10.1" font-weight="bold" transform="translate(309.2 161.2) scale(1.06 1)">0.2</text>
<text x="0" y="0" font-size="10.1" font-weight="bold" text-anchor="end" transform="translate(390.5 161.2) scale(1.06 1)">0.2</text>
<text x="0" y="0" font-size="10.1" font-weight="bold" transform="translate(307.9 230.8) scale(1.06 1)">99</text>
<text x="0" y="0" font-size="10.1" font-weight="bold" text-anchor="end" transform="translate(392.7 230.8) scale(1.06 1)">0.6</text>
<text x="0" y="0" font-size="10.1" font-weight="bold" transform="translate(404.3 162.8) scale(1.06 1)">0</text>
<text x="0" y="0" font-size="10.1" font-weight="bold" text-anchor="end" transform="translate(483.7 162.8) scale(1.06 1)">0</text>
<text x="0" y="0" font-size="10.1" font-weight="bold" transform="translate(404.5 231) scale(1.06 1)">99.8</text>
<text x="0" y="0" font-size="10.1" font-weight="bold" text-anchor="end" transform="translate(483.5 231) scale(1.06 1)">0.2</text>
<text x="0" y="0" font-size="10.1" font-weight="bold" transform="translate(311 267.3) scale(1.06 1)">0</text>
<text x="0" y="0" font-size="10.1" font-weight="bold" text-anchor="end" transform="translate(386.8 267.3) scale(1.06 1)">0</text>
<text x="0" y="0" font-size="10.1" font-weight="bold" transform="translate(316.6 336.4) scale(1.06 1)">99.8</text>
<text x="0" y="0" font-size="10.1" font-weight="bold" text-anchor="end" transform="translate(390.3 336.4) scale(1.06 1)">0.2</text>
<text x="0" y="0" font-size="10.1" font-weight="bold" transform="translate(402.1 267.3) scale(1.06 1)">0.1</text>
<text x="0" y="0" font-size="10.1" font-weight="bold" text-anchor="end" transform="translate(478.9 267.3) scale(1.06 1)">0</text>
<text x="0" y="0" font-size="10.1" font-weight="bold" transform="translate(404.5 336.4) scale(1.06 1)">99.4</text>
<text x="0" y="0" font-size="10.1" font-weight="bold" text-anchor="end" transform="translate(482.2 336.4) scale(1.06 1)">0.5</text>
<text x="357.1" y="80.6" font-size="10.3" font-weight="bold">S/G2/M</text>
<text x="309.2" y="89.4" font-size="10.3" font-weight="bold">G0/G1a</text>
<text x="347" y="105.5" font-size="10.3" font-weight="bold">G1b</text>
<path d="M314.3 94.3 V104.5" fill="none" stroke="#000" stroke-width="0.9"/>
<path d="M310.3 99.5 L314.3 105 L318.4 99.5" fill="none" stroke="#000" stroke-width="1.6"/>
<ellipse cx="332.2" cy="93.7" rx="6.2" ry="1.5" fill="#111" transform="rotate(-7 332.2 93.7)"/>
<path d="M327 94.34h0.6v0.6h-0.6zM335.88 92.45h0.6v0.6h-0.6zM326.58 93.99h0.6v0.6h-0.6zM333.81 94.15h0.6v0.6h-0.6zM327.04 92.83h0.6v0.6h-0.6zM334.72 93.48h0.6v0.6h-0.6zM338.04 93.53h0.6v0.6h-0.6zM331.49 93.2h0.6v0.6h-0.6zM328.76 92.76h0.6v0.6h-0.6zM332.28 93.48h0.6v0.6h-0.6zM330.52 93.51h0.6v0.6h-0.6zM332.99 93.89h0.6v0.6h-0.6zM336.29 93.05h0.6v0.6h-0.6zM324.74 94.91h0.6v0.6h-0.6zM326.22 93.94h0.6v0.6h-0.6zM326 94.13h0.6v0.6h-0.6zM328.79 93.97h0.6v0.6h-0.6zM335.27 91.8h0.6v0.6h-0.6zM330.75 94.14h0.6v0.6h-0.6zM331.53 93.78h0.6v0.6h-0.6zM332.31 92.44h0.6v0.6h-0.6zM334.15 92.39h0.6v0.6h-0.6zM339.39 92.03h0.6v0.6h-0.6zM334.64 93.07h0.6v0.6h-0.6zM335.71 92.39h0.6v0.6h-0.6zM335.9 92.8h0.6v0.6h-0.6zM336.95 93.34h0.6v0.6h-0.6zM332.47 92.63h0.6v0.6h-0.6zM334.97 93.44h0.6v0.6h-0.6zM338.47 92.25h0.6v0.6h-0.6zM334.12 93.58h0.6v0.6h-0.6zM333.03 93.45h0.6v0.6h-0.6zM332.63 92.77h0.6v0.6h-0.6zM327.84 93.54h0.6v0.6h-0.6zM334.26 94.47h0.6v0.6h-0.6zM335.81 93.87h0.6v0.6h-0.6zM335.01 93.65h0.6v0.6h-0.6zM332.63 94h0.6v0.6h-0.6z" fill="#222" opacity="0.6"/>
<ellipse cx="428.3" cy="91.6" rx="11" ry="2.1" fill="#111" transform="rotate(-8 428.3 91.6)"/>
<path d="M440.42 89.1h0.6v0.6h-0.6zM423.14 94.73h0.6v0.6h-0.6zM429.71 92.42h0.6v0.6h-0.6zM434.12 88.85h0.6v0.6h-0.6zM445.03 91.39h0.6v0.6h-0.6zM429.24 92.18h0.6v0.6h-0.6zM428.89 89.94h0.6v0.6h-0.6zM427.22 91.93h0.6v0.6h-0.6zM435.81 91.2h0.6v0.6h-0.6zM428.42 93.14h0.6v0.6h-0.6zM422.67 93.16h0.6v0.6h-0.6zM435.79 89.8h0.6v0.6h-0.6zM415.47 91.79h0.6v0.6h-0.6zM429.66 91.81h0.6v0.6h-0.6zM438.84 88.37h0.6v0.6h-0.6zM428.01 92.21h0.6v0.6h-0.6zM426.9 88.14h0.6v0.6h-0.6zM433.65 93.74h0.6v0.6h-0.6zM435.03 89.03h0.6v0.6h-0.6zM425.11 92.02h0.6v0.6h-0.6zM445.42 89.72h0.6v0.6h-0.6zM428.8 93.37h0.6v0.6h-0.6zM427.43 93.99h0.6v0.6h-0.6zM423.2 91.31h0.6v0.6h-0.6zM433.05 92.58h0.6v0.6h-0.6zM432.58 91.08h0.6v0.6h-0.6zM415.25 92.09h0.6v0.6h-0.6zM423.73 91.15h0.6v0.6h-0.6zM432.11 90.25h0.6v0.6h-0.6zM433.51 90.64h0.6v0.6h-0.6zM425.67 91.79h0.6v0.6h-0.6zM431 92.08h0.6v0.6h-0.6zM424.66 91.44h0.6v0.6h-0.6zM418.45 94.89h0.6v0.6h-0.6zM438.16 89.62h0.6v0.6h-0.6zM424.65 90.04h0.6v0.6h-0.6zM429.19 91.42h0.6v0.6h-0.6zM443.27 89.5h0.6v0.6h-0.6zM422.55 88.64h0.6v0.6h-0.6zM437.87 90.18h0.6v0.6h-0.6zM416.73 93.14h0.6v0.6h-0.6zM416.74 97.76h0.6v0.6h-0.6zM435.83 91h0.6v0.6h-0.6zM426.77 88.48h0.6v0.6h-0.6zM427.12 89.25h0.6v0.6h-0.6zM432.17 87.72h0.6v0.6h-0.6zM421.65 93.9h0.6v0.6h-0.6zM439.51 88.03h0.6v0.6h-0.6zM417.26 94.04h0.6v0.6h-0.6zM433.97 89.08h0.6v0.6h-0.6zM423.14 91.01h0.6v0.6h-0.6zM419.67 91.52h0.6v0.6h-0.6zM436.76 91.04h0.6v0.6h-0.6zM442.4 89.16h0.6v0.6h-0.6zM427.05 90.06h0.6v0.6h-0.6zM427.13 89.58h0.6v0.6h-0.6zM415.56 94.02h0.6v0.6h-0.6zM438.08 91.05h0.6v0.6h-0.6zM437.33 90.34h0.6v0.6h-0.6zM422.97 92.13h0.6v0.6h-0.6zM425.38 90.11h0.6v0.6h-0.6zM416.15 90.89h0.6v0.6h-0.6zM427.96 91.52h0.6v0.6h-0.6zM424.68 93.77h0.6v0.6h-0.6zM429.25 91.94h0.6v0.6h-0.6zM436.53 88.95h0.6v0.6h-0.6zM414.21 94.29h0.6v0.6h-0.6zM423.18 93.81h0.6v0.6h-0.6zM430.36 92.38h0.6v0.6h-0.6zM433.35 87.64h0.6v0.6h-0.6zM433.03 89.65h0.6v0.6h-0.6zM422.71 91.43h0.6v0.6h-0.6zM433.38 91.78h0.6v0.6h-0.6zM435.08 87.98h0.6v0.6h-0.6zM423.87 88.56h0.6v0.6h-0.6zM427.29 92.24h0.6v0.6h-0.6zM422.65 92.39h0.6v0.6h-0.6zM429.62 92.48h0.6v0.6h-0.6zM422.25 90.95h0.6v0.6h-0.6zM422.66 94.5h0.6v0.6h-0.6zM435.63 90.05h0.6v0.6h-0.6zM429.58 91.24h0.6v0.6h-0.6zM429.42 90.81h0.6v0.6h-0.6zM425.66 89.87h0.6v0.6h-0.6zM423.51 94.24h0.6v0.6h-0.6zM431.76 90.86h0.6v0.6h-0.6zM426.5 91.6h0.6v0.6h-0.6zM430.47 90.05h0.6v0.6h-0.6zM429.37 91.44h0.6v0.6h-0.6zM422.76 90.93h0.6v0.6h-0.6zM421.01 90.79h0.6v0.6h-0.6zM434.23 87.12h0.6v0.6h-0.6zM426.13 90.71h0.6v0.6h-0.6zM423.66 92.05h0.6v0.6h-0.6zM435.9 90.3h0.6v0.6h-0.6zM427.02 90.58h0.6v0.6h-0.6zM427.1 92.7h0.6v0.6h-0.6zM425.24 90.08h0.6v0.6h-0.6zM419.15 90.99h0.6v0.6h-0.6zM418.27 94.21h0.6v0.6h-0.6zM430.49 90.62h0.6v0.6h-0.6zM438.22 88.94h0.6v0.6h-0.6zM433.27 91.68h0.6v0.6h-0.6zM417.18 90.64h0.6v0.6h-0.6zM421.51 93.48h0.6v0.6h-0.6zM437.07 88.31h0.6v0.6h-0.6zM435.34 89.73h0.6v0.6h-0.6zM425.25 90.92h0.6v0.6h-0.6zM425.73 89.07h0.6v0.6h-0.6zM420.99 90.56h0.6v0.6h-0.6zM431.43 93.74h0.6v0.6h-0.6zM447.12 88.14h0.6v0.6h-0.6zM415.95 92.42h0.6v0.6h-0.6zM421.43 95h0.6v0.6h-0.6zM432 89.72h0.6v0.6h-0.6zM434.55 91.13h0.6v0.6h-0.6zM416.62 92.15h0.6v0.6h-0.6zM426.32 91.56h0.6v0.6h-0.6zM428.92 90.7h0.6v0.6h-0.6zM429.33 90.29h0.6v0.6h-0.6zM421.72 94.3h0.6v0.6h-0.6zM430.52 91.56h0.6v0.6h-0.6zM416.84 92.64h0.6v0.6h-0.6zM433.73 88.69h0.6v0.6h-0.6zM435.68 89.67h0.6v0.6h-0.6zM430.82 90.72h0.6v0.6h-0.6zM429.53 92.77h0.6v0.6h-0.6zM425.18 93.89h0.6v0.6h-0.6zM422.53 90.76h0.6v0.6h-0.6zM432.98 89.11h0.6v0.6h-0.6zM425.41 92.93h0.6v0.6h-0.6zM436.47 87.62h0.6v0.6h-0.6zM431.54 93.44h0.6v0.6h-0.6zM436.36 89.79h0.6v0.6h-0.6zM423.8 91.48h0.6v0.6h-0.6zM419.93 92.06h0.6v0.6h-0.6zM426.69 91.28h0.6v0.6h-0.6zM436.28 89.81h0.6v0.6h-0.6zM417.8 94.21h0.6v0.6h-0.6zM420.49 91.73h0.6v0.6h-0.6zM427.06 90.95h0.6v0.6h-0.6zM420.98 91.94h0.6v0.6h-0.6zM443.29 88.3h0.6v0.6h-0.6zM427.05 93.01h0.6v0.6h-0.6zM433.21 91.64h0.6v0.6h-0.6zM434.04 87.7h0.6v0.6h-0.6zM421.95 92.33h0.6v0.6h-0.6zM431.49 92.62h0.6v0.6h-0.6zM431.29 90.5h0.6v0.6h-0.6zM428.28 90.97h0.6v0.6h-0.6z" fill="#222" opacity="0.6"/>
<path d="M437.53 83.19h0.66v0.66h-0.66zM434.3 78.91h0.66v0.66h-0.66zM431.47 89.63h0.66v0.66h-0.66zM443.22 80.35h0.66v0.66h-0.66zM440.88 81.39h0.66v0.66h-0.66zM436.16 84.17h0.66v0.66h-0.66zM430.38 84.6h0.66v0.66h-0.66zM432.13 87.47h0.66v0.66h-0.66zM432.98 83.08h0.66v0.66h-0.66zM438.37 85.61h0.66v0.66h-0.66zM431.81 80.21h0.66v0.66h-0.66zM440.67 72.82h0.66v0.66h-0.66zM438.66 76.74h0.66v0.66h-0.66zM435.59 73.41h0.66v0.66h-0.66zM440.09 75.98h0.66v0.66h-0.66zM438.41 77.92h0.66v0.66h-0.66zM436.76 87.96h0.66v0.66h-0.66zM436.02 83.31h0.66v0.66h-0.66zM439.01 74.94h0.66v0.66h-0.66zM436.88 78.38h0.66v0.66h-0.66zM429.32 90.23h0.66v0.66h-0.66zM439.83 78.76h0.66v0.66h-0.66zM431.18 75.89h0.66v0.66h-0.66zM438.84 78.73h0.66v0.66h-0.66zM426.91 87.85h0.66v0.66h-0.66zM427.8 87.33h0.66v0.66h-0.66zM436.96 82.18h0.66v0.66h-0.66zM437.36 81.04h0.66v0.66h-0.66zM429.9 84.15h0.66v0.66h-0.66zM433.36 82.22h0.66v0.66h-0.66zM437.66 82.84h0.66v0.66h-0.66zM438.38 78.62h0.66v0.66h-0.66zM448.69 75.98h0.66v0.66h-0.66zM427.08 89.8h0.66v0.66h-0.66zM433.31 87.79h0.66v0.66h-0.66zM430.36 85.07h0.66v0.66h-0.66zM435.45 81.28h0.66v0.66h-0.66zM432.96 75.31h0.66v0.66h-0.66zM438.7 83.77h0.66v0.66h-0.66zM435.79 76.87h0.66v0.66h-0.66zM437.29 82.88h0.66v0.66h-0.66zM435.2 81.83h0.66v0.66h-0.66zM443.92 70.32h0.66v0.66h-0.66zM433.1 74.9h0.66v0.66h-0.66zM432.32 80.73h0.66v0.66h-0.66zM430.89 82.01h0.66v0.66h-0.66zM446.05 72.87h0.66v0.66h-0.66zM435.54 91.53h0.66v0.66h-0.66zM435.84 73.62h0.66v0.66h-0.66zM438.39 75.29h0.66v0.66h-0.66zM445.18 68.8h0.66v0.66h-0.66zM432.98 76.34h0.66v0.66h-0.66zM436.71 76.2h0.66v0.66h-0.66zM435.81 79.74h0.66v0.66h-0.66zM432.8 87.94h0.66v0.66h-0.66zM441.32 77.59h0.66v0.66h-0.66zM431.22 80.07h0.66v0.66h-0.66zM437.65 90.82h0.66v0.66h-0.66zM433.66 79.52h0.66v0.66h-0.66zM432.33 79.12h0.66v0.66h-0.66zM430.82 84.26h0.66v0.66h-0.66zM444.06 75.25h0.66v0.66h-0.66zM433.36 76.01h0.66v0.66h-0.66zM437.34 80.17h0.66v0.66h-0.66zM429.42 81.34h0.66v0.66h-0.66zM435.94 85.9h0.66v0.66h-0.66zM439.62 79.51h0.66v0.66h-0.66zM434.39 83.95h0.66v0.66h-0.66zM436.1 91h0.66v0.66h-0.66zM429.94 84.18h0.66v0.66h-0.66zM443.14 74.74h0.66v0.66h-0.66zM444.01 75.09h0.66v0.66h-0.66zM436.97 78.9h0.66v0.66h-0.66zM428.58 82.5h0.66v0.66h-0.66zM448.35 74.94h0.66v0.66h-0.66zM439.5 82.96h0.66v0.66h-0.66zM439.3 83.42h0.66v0.66h-0.66zM434.71 81.26h0.66v0.66h-0.66zM441.58 75.53h0.66v0.66h-0.66zM428.85 85.64h0.66v0.66h-0.66zM433.17 86.18h0.66v0.66h-0.66zM432.21 79.36h0.66v0.66h-0.66zM434.34 89.53h0.66v0.66h-0.66zM435.91 82.09h0.66v0.66h-0.66zM436.22 82.46h0.66v0.66h-0.66zM441.28 83.62h0.66v0.66h-0.66zM436.15 79.74h0.66v0.66h-0.66zM449.36 70.51h0.66v0.66h-0.66zM446.87 77.5h0.66v0.66h-0.66zM430.51 87.61h0.66v0.66h-0.66zM440.22 77.57h0.66v0.66h-0.66zM423.37 89.22h0.66v0.66h-0.66zM435.12 76.98h0.66v0.66h-0.66zM446.21 72.54h0.66v0.66h-0.66zM434.01 81.44h0.66v0.66h-0.66zM431.86 80.91h0.66v0.66h-0.66zM436.69 82.19h0.66v0.66h-0.66zM433.38 82.86h0.66v0.66h-0.66zM428.52 89.25h0.66v0.66h-0.66zM432.05 85.23h0.66v0.66h-0.66zM431.18 82.59h0.66v0.66h-0.66zM437.35 74.83h0.66v0.66h-0.66zM449.75 70.82h0.66v0.66h-0.66zM435.77 78.17h0.66v0.66h-0.66zM444.94 80.83h0.66v0.66h-0.66zM437.82 73.78h0.66v0.66h-0.66zM433.4 86.02h0.66v0.66h-0.66zM433.35 77.95h0.66v0.66h-0.66zM429.64 82.6h0.66v0.66h-0.66zM436.25 78.19h0.66v0.66h-0.66zM445.92 69.19h0.66v0.66h-0.66zM438.06 80.15h0.66v0.66h-0.66zM435.41 86.43h0.66v0.66h-0.66zM434.34 81.08h0.66v0.66h-0.66zM434.11 82.26h0.66v0.66h-0.66zM443.24 79.36h0.66v0.66h-0.66zM428.79 84.72h0.66v0.66h-0.66zM431.78 88.13h0.66v0.66h-0.66zM437.41 84.25h0.66v0.66h-0.66zM435.83 72.84h0.66v0.66h-0.66zM438.65 80.33h0.66v0.66h-0.66zM438.96 73.21h0.66v0.66h-0.66zM436.62 77.74h0.66v0.66h-0.66zM432.39 85.59h0.66v0.66h-0.66zM438.11 75.7h0.66v0.66h-0.66zM426.75 77.1h0.66v0.66h-0.66zM433.01 88.59h0.66v0.66h-0.66zM435.87 71.27h0.66v0.66h-0.66zM431.43 86.63h0.66v0.66h-0.66zM445.37 79.53h0.66v0.66h-0.66zM438.19 80.54h0.66v0.66h-0.66zM430.34 83.5h0.66v0.66h-0.66zM434.34 79.06h0.66v0.66h-0.66zM436.52 79.14h0.66v0.66h-0.66zM438.02 86.23h0.66v0.66h-0.66zM440.25 79.99h0.66v0.66h-0.66zM434.85 75.32h0.66v0.66h-0.66zM435.54 84.09h0.66v0.66h-0.66zM430.62 90.97h0.66v0.66h-0.66zM434.33 84.22h0.66v0.66h-0.66zM434.36 76.87h0.66v0.66h-0.66zM447.54 67.41h0.66v0.66h-0.66zM441.22 74.88h0.66v0.66h-0.66zM437.7 76.39h0.66v0.66h-0.66zM433.88 87.03h0.66v0.66h-0.66z" fill="#555" opacity="0.62"/>
<ellipse cx="331" cy="210.3" rx="5.2" ry="1.9" fill="#111" transform="rotate(-6 331 210.3)"/>
<path d="M338.87 208.04h0.6v0.6h-0.6zM330.74 211.23h0.6v0.6h-0.6zM328.05 211.2h0.6v0.6h-0.6zM327.4 211.13h0.6v0.6h-0.6zM332.53 211.38h0.6v0.6h-0.6zM332.23 208.29h0.6v0.6h-0.6zM333.49 208.27h0.6v0.6h-0.6zM333.85 211.63h0.6v0.6h-0.6zM333.2 209.02h0.6v0.6h-0.6zM335.71 209.69h0.6v0.6h-0.6zM325.47 210.09h0.6v0.6h-0.6zM336.66 208.98h0.6v0.6h-0.6zM331.21 209.5h0.6v0.6h-0.6zM323.62 210.08h0.6v0.6h-0.6zM332.2 210.11h0.6v0.6h-0.6zM329.97 207.3h0.6v0.6h-0.6zM335.83 210.4h0.6v0.6h-0.6zM335 211.24h0.6v0.6h-0.6zM328.83 209.41h0.6v0.6h-0.6zM332.02 212.04h0.6v0.6h-0.6zM323.62 210.45h0.6v0.6h-0.6zM327.7 211.04h0.6v0.6h-0.6zM336.85 208.97h0.6v0.6h-0.6zM325.49 210.61h0.6v0.6h-0.6zM329.5 208.12h0.6v0.6h-0.6zM334.42 208.93h0.6v0.6h-0.6zM333.57 207.99h0.6v0.6h-0.6zM335.3 207.64h0.6v0.6h-0.6zM335.12 207.18h0.6v0.6h-0.6zM336.5 208.9h0.6v0.6h-0.6zM324.16 210.38h0.6v0.6h-0.6zM332.12 208.56h0.6v0.6h-0.6zM328.63 210.57h0.6v0.6h-0.6zM328.89 210.74h0.6v0.6h-0.6zM331.95 211.18h0.6v0.6h-0.6zM327.8 213.62h0.6v0.6h-0.6zM334.06 210.05h0.6v0.6h-0.6zM335.26 210.76h0.6v0.6h-0.6zM331.13 209.15h0.6v0.6h-0.6zM335 210.1h0.6v0.6h-0.6zM322.75 209.4h0.6v0.6h-0.6zM332.66 209.94h0.6v0.6h-0.6zM331.88 210.71h0.6v0.6h-0.6zM331.31 211.99h0.6v0.6h-0.6zM328.22 209.74h0.6v0.6h-0.6zM332.06 210.83h0.6v0.6h-0.6zM334.01 211.59h0.6v0.6h-0.6zM328.7 211.73h0.6v0.6h-0.6zM332.66 208.44h0.6v0.6h-0.6zM330.12 212.77h0.6v0.6h-0.6zM334 209.04h0.6v0.6h-0.6zM320.63 210.1h0.6v0.6h-0.6zM327.75 210.41h0.6v0.6h-0.6zM340.4 209.95h0.6v0.6h-0.6zM332.01 208.65h0.6v0.6h-0.6zM325.72 210.25h0.6v0.6h-0.6zM328.74 214.12h0.6v0.6h-0.6zM329 209.38h0.6v0.6h-0.6zM335.44 209.6h0.6v0.6h-0.6zM325.51 212.22h0.6v0.6h-0.6zM329.39 208.41h0.6v0.6h-0.6zM332.05 210.49h0.6v0.6h-0.6zM329.28 211.06h0.6v0.6h-0.6zM334.15 208.49h0.6v0.6h-0.6zM322.06 207.8h0.6v0.6h-0.6zM330.16 211.66h0.6v0.6h-0.6zM334.91 211.37h0.6v0.6h-0.6zM338.5 209.2h0.6v0.6h-0.6zM335.13 207.55h0.6v0.6h-0.6z" fill="#222" opacity="0.6"/>
<ellipse cx="424.8" cy="211.3" rx="6.5" ry="1.7" fill="#111" transform="rotate(-10 424.8 211.3)"/>
<path d="M427.26 210.91h0.6v0.6h-0.6zM424.12 210.62h0.6v0.6h-0.6zM420.04 211.93h0.6v0.6h-0.6zM429.61 209.73h0.6v0.6h-0.6zM426.62 209.96h0.6v0.6h-0.6zM425.52 209.81h0.6v0.6h-0.6zM426.01 210.52h0.6v0.6h-0.6zM425.76 210.17h0.6v0.6h-0.6zM419.79 211.5h0.6v0.6h-0.6zM428.65 211.85h0.6v0.6h-0.6zM423.2 212.03h0.6v0.6h-0.6zM427.53 210.86h0.6v0.6h-0.6zM418.29 212.42h0.6v0.6h-0.6zM420.62 212.86h0.6v0.6h-0.6zM427.65 211.06h0.6v0.6h-0.6zM414.36 213.41h0.6v0.6h-0.6zM427.3 209.23h0.6v0.6h-0.6zM428.38 210.39h0.6v0.6h-0.6zM423.77 210.42h0.6v0.6h-0.6zM420.43 211.28h0.6v0.6h-0.6zM425.33 210.21h0.6v0.6h-0.6zM422.03 210.88h0.6v0.6h-0.6zM420.95 212.5h0.6v0.6h-0.6zM423.42 212.06h0.6v0.6h-0.6zM419.88 212.74h0.6v0.6h-0.6zM424.39 211.69h0.6v0.6h-0.6zM424.08 210.19h0.6v0.6h-0.6zM429.34 209.71h0.6v0.6h-0.6zM423.91 210.22h0.6v0.6h-0.6zM425.32 210.47h0.6v0.6h-0.6zM425.63 211.15h0.6v0.6h-0.6zM421.74 210.08h0.6v0.6h-0.6zM426.23 211.61h0.6v0.6h-0.6zM427.28 209.36h0.6v0.6h-0.6zM426.92 210.96h0.6v0.6h-0.6zM425.64 211.23h0.6v0.6h-0.6zM423.2 211.44h0.6v0.6h-0.6zM428.21 209.84h0.6v0.6h-0.6zM418.74 211.91h0.6v0.6h-0.6zM425.28 209.02h0.6v0.6h-0.6zM421.79 212.07h0.6v0.6h-0.6zM423.9 211.2h0.6v0.6h-0.6zM419.46 212.79h0.6v0.6h-0.6zM431.52 209.56h0.6v0.6h-0.6z" fill="#222" opacity="0.6"/>
<ellipse cx="332.8" cy="316.8" rx="5.6" ry="2" fill="#111" transform="rotate(-8 332.8 316.8)"/>
<path d="M329.28 315.33h0.6v0.6h-0.6zM336.42 316.1h0.6v0.6h-0.6zM329.01 318.69h0.6v0.6h-0.6zM335.86 316.87h0.6v0.6h-0.6zM324.76 317.44h0.6v0.6h-0.6zM335.25 314.4h0.6v0.6h-0.6zM336.59 317.93h0.6v0.6h-0.6zM337.05 314.85h0.6v0.6h-0.6zM329.39 318.26h0.6v0.6h-0.6zM336.87 317.61h0.6v0.6h-0.6zM337.78 315.62h0.6v0.6h-0.6zM330.7 314.16h0.6v0.6h-0.6zM335.95 319.2h0.6v0.6h-0.6zM330.46 316.12h0.6v0.6h-0.6zM335.36 316.62h0.6v0.6h-0.6zM326.47 316.35h0.6v0.6h-0.6zM327.67 320.01h0.6v0.6h-0.6zM329.34 318.14h0.6v0.6h-0.6zM340.94 317.97h0.6v0.6h-0.6zM338.77 317.9h0.6v0.6h-0.6zM327.06 316.78h0.6v0.6h-0.6zM329.3 316.54h0.6v0.6h-0.6zM334.96 314.42h0.6v0.6h-0.6zM338.39 317.49h0.6v0.6h-0.6zM330.25 319.71h0.6v0.6h-0.6zM332.83 318.28h0.6v0.6h-0.6zM333.87 315.52h0.6v0.6h-0.6zM330.83 316.57h0.6v0.6h-0.6zM335.22 316.29h0.6v0.6h-0.6zM342.89 314.77h0.6v0.6h-0.6zM330.45 315.78h0.6v0.6h-0.6zM329.08 314.96h0.6v0.6h-0.6zM328.16 318.38h0.6v0.6h-0.6zM332.77 316.22h0.6v0.6h-0.6zM334.04 317.78h0.6v0.6h-0.6zM335.21 317.2h0.6v0.6h-0.6zM330.04 316.48h0.6v0.6h-0.6zM329.08 316.84h0.6v0.6h-0.6zM328.9 316.48h0.6v0.6h-0.6zM331.73 316.31h0.6v0.6h-0.6zM331.33 315.98h0.6v0.6h-0.6zM338.26 315.21h0.6v0.6h-0.6zM328.05 317.4h0.6v0.6h-0.6zM327.71 315.67h0.6v0.6h-0.6zM332.87 314.11h0.6v0.6h-0.6zM318.33 318.89h0.6v0.6h-0.6zM337.05 313.52h0.6v0.6h-0.6zM328.55 317.86h0.6v0.6h-0.6zM323.76 316.5h0.6v0.6h-0.6zM327.2 316.97h0.6v0.6h-0.6zM323.82 318.97h0.6v0.6h-0.6zM331.87 317.01h0.6v0.6h-0.6zM331.06 313.73h0.6v0.6h-0.6zM331.83 314.72h0.6v0.6h-0.6zM332.54 315.3h0.6v0.6h-0.6zM331.11 316.4h0.6v0.6h-0.6zM335.9 317.1h0.6v0.6h-0.6zM328.08 317.1h0.6v0.6h-0.6zM338.92 316.29h0.6v0.6h-0.6zM329.29 316.78h0.6v0.6h-0.6zM330.97 318.03h0.6v0.6h-0.6zM332.65 317h0.6v0.6h-0.6zM342.23 313.2h0.6v0.6h-0.6zM328.04 314.7h0.6v0.6h-0.6zM325.49 318.69h0.6v0.6h-0.6zM333.79 318.6h0.6v0.6h-0.6zM323.81 316.49h0.6v0.6h-0.6zM338.85 317.05h0.6v0.6h-0.6zM336.39 317.17h0.6v0.6h-0.6z" fill="#222" opacity="0.6"/>
<ellipse cx="424.6" cy="316.1" rx="5.3" ry="1.9" fill="#111" transform="rotate(-4 424.6 316.1)"/>
<path d="M424.42 315.78h0.6v0.6h-0.6zM424.42 316.8h0.6v0.6h-0.6zM423.68 316.23h0.6v0.6h-0.6zM429.82 314.06h0.6v0.6h-0.6zM421.45 316.68h0.6v0.6h-0.6zM423.3 315.68h0.6v0.6h-0.6zM432.27 315.74h0.6v0.6h-0.6zM422.71 317.23h0.6v0.6h-0.6zM433.87 313.8h0.6v0.6h-0.6zM421.75 316.12h0.6v0.6h-0.6zM421.88 318.57h0.6v0.6h-0.6zM426.3 315.18h0.6v0.6h-0.6zM426.16 314.71h0.6v0.6h-0.6zM422 316.09h0.6v0.6h-0.6zM433.37 312.47h0.6v0.6h-0.6zM425.9 317.31h0.6v0.6h-0.6zM427.11 317.91h0.6v0.6h-0.6zM426.01 315.86h0.6v0.6h-0.6zM423.8 314.81h0.6v0.6h-0.6zM430.51 313.95h0.6v0.6h-0.6zM423.83 315.2h0.6v0.6h-0.6zM421.32 313.34h0.6v0.6h-0.6zM422.85 316.07h0.6v0.6h-0.6zM424.84 316.78h0.6v0.6h-0.6zM423.68 315.07h0.6v0.6h-0.6zM425.47 316.52h0.6v0.6h-0.6zM420.87 314.22h0.6v0.6h-0.6zM420.4 317.34h0.6v0.6h-0.6zM428.09 314.47h0.6v0.6h-0.6zM424.72 316.78h0.6v0.6h-0.6zM429.35 314.66h0.6v0.6h-0.6zM423.39 317.55h0.6v0.6h-0.6zM433.46 316.99h0.6v0.6h-0.6zM419.97 316.64h0.6v0.6h-0.6zM423.16 315.81h0.6v0.6h-0.6zM421.78 315.4h0.6v0.6h-0.6zM424.26 317.97h0.6v0.6h-0.6zM426.96 316.13h0.6v0.6h-0.6zM424.4 314.89h0.6v0.6h-0.6zM423.43 317.35h0.6v0.6h-0.6zM427.45 317.94h0.6v0.6h-0.6zM425.29 315.71h0.6v0.6h-0.6zM418.15 316.71h0.6v0.6h-0.6zM417.75 318.09h0.6v0.6h-0.6zM421.91 315.97h0.6v0.6h-0.6zM419.17 315.56h0.6v0.6h-0.6zM420.76 317.41h0.6v0.6h-0.6zM425.24 314.32h0.6v0.6h-0.6zM416.96 316.23h0.6v0.6h-0.6zM422.45 314.6h0.6v0.6h-0.6zM426.54 315.42h0.6v0.6h-0.6zM424.72 315.06h0.6v0.6h-0.6zM422.13 315.4h0.6v0.6h-0.6zM418.21 316.98h0.6v0.6h-0.6zM425.83 313.62h0.6v0.6h-0.6zM424.69 317.16h0.6v0.6h-0.6zM425.2 317.29h0.6v0.6h-0.6zM423.28 315.87h0.6v0.6h-0.6zM419.36 315.06h0.6v0.6h-0.6zM417.37 315.21h0.6v0.6h-0.6z" fill="#222" opacity="0.6"/>
<path d="M301.6 24.5 V121.3 H395.5" fill="none" stroke="#000" stroke-width="1.5"/>
<path d="M297.3 31.3 L301.6 23.8 L305.9 31.3" fill="none" stroke="#000" stroke-width="1.9" stroke-linejoin="miter"/>
<path d="M388.4 117.3 L396.3 121.3 L388.4 125.3" fill="none" stroke="#000" stroke-width="1.9" stroke-linejoin="miter"/>
</g>
<g id="panelD">
<text x="-0.4" y="394.2" font-size="17.3" font-weight="bold">D</text>
<line x1="259.9" y1="381" x2="259.9" y2="725.5" stroke="#000" stroke-width="1.8"/>
<text x="124.3" y="401.8" font-size="11.4" font-weight="bold" text-anchor="middle">BaEVTR</text>
<text x="0" y="0" font-size="11.5" font-weight="bold" text-anchor="middle" transform="translate(343.3 401.8) scale(1.075 1)">BaEVRless</text>
<text x="0" y="0" font-size="16" text-anchor="middle" transform="translate(496.2 480) scale(1.07 1)">BM</text>
<text x="0" y="0" font-size="16.3" transform="translate(467.4 637.9) scale(1.06 1)">Spleen</text>
<line x1="60" y1="407.2" x2="458" y2="407.2" stroke="#808080" stroke-width="0.9"/>
<line x1="60" y1="538.2" x2="458" y2="538.2" stroke="#808080" stroke-width="0.9"/>
<line x1="60" y1="407.2" x2="60" y2="538.2" stroke="#808080" stroke-width="0.9"/>
<line x1="458" y1="407.2" x2="458" y2="538.2" stroke="#808080" stroke-width="0.9"/>
<line x1="57" y1="538.2" x2="60" y2="538.2" stroke="#808080" stroke-width="0.9"/>
<text x="50.7" y="541.8" font-size="10.3" font-weight="bold" text-anchor="end">0</text>
<line x1="57" y1="519.49" x2="60" y2="519.49" stroke="#808080" stroke-width="0.9"/>
<text x="50.7" y="523.09" font-size="10.3" font-weight="bold" text-anchor="end">10</text>
<line x1="57" y1="500.77" x2="60" y2="500.77" stroke="#808080" stroke-width="0.9"/>
<text x="50.7" y="504.37" font-size="10.3" font-weight="bold" text-anchor="end">20</text>
<line x1="57" y1="482.06" x2="60" y2="482.06" stroke="#808080" stroke-width="0.9"/>
<text x="50.7" y="485.66" font-size="10.3" font-weight="bold" text-anchor="end">30</text>
<line x1="57" y1="463.34" x2="60" y2="463.34" stroke="#808080" stroke-width="0.9"/>
<text x="50.7" y="466.94" font-size="10.3" font-weight="bold" text-anchor="end">40</text>
<line x1="57" y1="444.63" x2="60" y2="444.63" stroke="#808080" stroke-width="0.9"/>
<text x="50.7" y="448.23" font-size="10.3" font-weight="bold" text-anchor="end">50</text>
<line x1="57" y1="425.91" x2="60" y2="425.91" stroke="#808080" stroke-width="0.9"/>
<text x="50.7" y="429.51" font-size="10.3" font-weight="bold" text-anchor="end">60</text>
<line x1="57" y1="407.2" x2="60" y2="407.2" stroke="#808080" stroke-width="0.9"/>
<text x="50.7" y="410.8" font-size="10.3" font-weight="bold" text-anchor="end">70</text>
<rect x="64.5" y="526.04" width="7" height="12.16" fill="#000"/>
<rect x="71.5" y="506.39" width="7" height="31.81" fill="url(#hatch)" stroke="#000" stroke-width="0.9"/>
<rect x="78.7" y="507.7" width="6.8" height="30.5" fill="#bdbdbd" stroke="#000" stroke-width="0.9"/>
<rect x="85.7" y="506.39" width="6.8" height="31.81" fill="#fff" stroke="#000" stroke-width="0.9"/>
<rect x="92.5" y="487.67" width="7" height="50.53" fill="#383838" stroke="#111" stroke-width="0.6"/>
<rect x="108.7" y="519.49" width="7" height="18.71" fill="#000"/>
<rect x="115.7" y="520.42" width="7" height="17.78" fill="url(#hatch)" stroke="#000" stroke-width="0.9"/>
<rect x="122.9" y="524.54" width="6.8" height="13.66" fill="#bdbdbd" stroke="#000" stroke-width="0.9"/>
<rect x="129.9" y="515.74" width="6.8" height="22.46" fill="#fff" stroke="#000" stroke-width="0.9"/>
<rect x="136.7" y="510.13" width="7" height="28.07" fill="#383838" stroke="#111" stroke-width="0.6"/>
<rect x="153.2" y="457.73" width="7" height="80.47" fill="#000"/>
<rect x="160.2" y="483.93" width="7" height="54.27" fill="url(#hatch)" stroke="#000" stroke-width="0.9"/>
<rect x="167.4" y="467.09" width="6.8" height="71.11" fill="#bdbdbd" stroke="#000" stroke-width="0.9"/>
<rect x="174.4" y="485.8" width="6.8" height="52.4" fill="#fff" stroke="#000" stroke-width="0.9"/>
<rect x="181.2" y="463.34" width="7" height="74.86" fill="#383838" stroke="#111" stroke-width="0.6"/>
<rect x="197.5" y="483.93" width="7" height="54.27" fill="#000"/>
<rect x="204.5" y="474.57" width="7" height="63.63" fill="url(#hatch)" stroke="#000" stroke-width="0.9"/>
<rect x="211.7" y="491.41" width="6.8" height="46.79" fill="#bdbdbd" stroke="#000" stroke-width="0.9"/>
<rect x="218.7" y="495.16" width="6.8" height="43.04" fill="#fff" stroke="#000" stroke-width="0.9"/>
<rect x="225.5" y="487.67" width="7" height="50.53" fill="#383838" stroke="#111" stroke-width="0.6"/>
<rect x="286.3" y="508.26" width="6.9" height="29.94" fill="#000"/>
<rect x="293.2" y="502.64" width="6.9" height="35.56" fill="url(#hatch)" stroke="#000" stroke-width="0.9"/>
<rect x="300.3" y="487.67" width="6.7" height="50.53" fill="#bdbdbd" stroke="#000" stroke-width="0.9"/>
<rect x="307.2" y="515.74" width="6.7" height="22.46" fill="#fff" stroke="#000" stroke-width="0.9"/>
<rect x="313.9" y="498.9" width="6.9" height="39.3" fill="#383838" stroke="#111" stroke-width="0.6"/>
<rect x="330.8" y="525.1" width="6.9" height="13.1" fill="#000"/>
<rect x="337.7" y="512" width="6.9" height="26.2" fill="url(#hatch)" stroke="#000" stroke-width="0.9"/>
<rect x="344.8" y="517.61" width="6.7" height="20.59" fill="#bdbdbd" stroke="#000" stroke-width="0.9"/>
<rect x="351.7" y="523.23" width="6.7" height="14.97" fill="#fff" stroke="#000" stroke-width="0.9"/>
<rect x="358.4" y="517.61" width="6.9" height="20.59" fill="#383838" stroke="#111" stroke-width="0.6"/>
<rect x="375.3" y="435.27" width="6.9" height="102.93" fill="#000"/>
<rect x="382.2" y="465.21" width="6.9" height="72.99" fill="url(#hatch)" stroke="#000" stroke-width="0.9"/>
<rect x="389.3" y="470.83" width="6.7" height="67.37" fill="#bdbdbd" stroke="#000" stroke-width="0.9"/>
<rect x="396.2" y="463.34" width="6.7" height="74.86" fill="#fff" stroke="#000" stroke-width="0.9"/>
<rect x="402.9" y="465.21" width="6.9" height="72.99" fill="#383838" stroke="#111" stroke-width="0.6"/>
<rect x="419.2" y="420.3" width="6.9" height="117.9" fill="#000"/>
<rect x="426.1" y="444.63" width="6.9" height="93.57" fill="url(#hatch)" stroke="#000" stroke-width="0.9"/>
<rect x="433.2" y="450.24" width="6.7" height="87.96" fill="#bdbdbd" stroke="#000" stroke-width="0.9"/>
<rect x="440.1" y="446.5" width="6.7" height="91.7" fill="#fff" stroke="#000" stroke-width="0.9"/>
<rect x="446.8" y="440.89" width="6.9" height="97.31" fill="#383838" stroke="#111" stroke-width="0.6"/>
<text x="33.5" y="557" font-size="10.4" font-weight="bold">NSG</text>
<text x="76.3" y="557" font-size="10.2" text-anchor="middle">1</text>
<text x="120" y="557" font-size="10.2" text-anchor="middle">2</text>
<text x="160.8" y="557" font-size="10.2" text-anchor="middle">3</text>
<text x="204.3" y="557" font-size="10.2" text-anchor="middle">4</text>
<text x="291.7" y="557" font-size="10.2" text-anchor="middle">1</text>
<text x="338" y="557" font-size="10.2" text-anchor="middle">2</text>
<text x="379" y="557" font-size="10.2" text-anchor="middle">3</text>
<text x="422" y="557" font-size="10.2" text-anchor="middle">4</text>
<line x1="59.5" y1="571.3" x2="458" y2="571.3" stroke="#808080" stroke-width="0.9"/>
<line x1="59.5" y1="705.3" x2="458" y2="705.3" stroke="#808080" stroke-width="0.9"/>
<line x1="59.5" y1="571.3" x2="59.5" y2="705.3" stroke="#808080" stroke-width="0.9"/>
<line x1="458" y1="571.3" x2="458" y2="705.3" stroke="#808080" stroke-width="0.9"/>
<line x1="56.5" y1="705.3" x2="59.5" y2="705.3" stroke="#808080" stroke-width="0.9"/>
<text x="50.2" y="709.6" font-size="10.3" font-weight="bold" text-anchor="end">0</text>
<line x1="56.5" y1="686.16" x2="59.5" y2="686.16" stroke="#808080" stroke-width="0.9"/>
<text x="50.2" y="690.46" font-size="10.3" font-weight="bold" text-anchor="end">10</text>
<line x1="56.5" y1="667.01" x2="59.5" y2="667.01" stroke="#808080" stroke-width="0.9"/>
<text x="50.2" y="671.31" font-size="10.3" font-weight="bold" text-anchor="end">20</text>
<line x1="56.5" y1="647.87" x2="59.5" y2="647.87" stroke="#808080" stroke-width="0.9"/>
<text x="50.2" y="652.17" font-size="10.3" font-weight="bold" text-anchor="end">30</text>
<line x1="56.5" y1="628.73" x2="59.5" y2="628.73" stroke="#808080" stroke-width="0.9"/>
<text x="50.2" y="633.03" font-size="10.3" font-weight="bold" text-anchor="end">40</text>
<line x1="56.5" y1="609.59" x2="59.5" y2="609.59" stroke="#808080" stroke-width="0.9"/>
<text x="50.2" y="613.89" font-size="10.3" font-weight="bold" text-anchor="end">50</text>
<line x1="56.5" y1="590.44" x2="59.5" y2="590.44" stroke="#808080" stroke-width="0.9"/>
<text x="50.2" y="594.74" font-size="10.3" font-weight="bold" text-anchor="end">60</text>
<line x1="56.5" y1="571.3" x2="59.5" y2="571.3" stroke="#808080" stroke-width="0.9"/>
<text x="50.2" y="575.6" font-size="10.3" font-weight="bold" text-anchor="end">70</text>
<rect x="64.5" y="653.61" width="8.25" height="51.69" fill="#000"/>
<rect x="72.75" y="655.53" width="8.25" height="49.77" fill="url(#hatchS)" stroke="#000" stroke-width="0.9"/>
<rect x="81.2" y="659.36" width="8.05" height="45.94" fill="#bdbdbd" stroke="#000" stroke-width="0.9"/>
<rect x="89.45" y="678.5" width="8.05" height="26.8" fill="#fff" stroke="#000" stroke-width="0.9"/>
<rect x="109.2" y="663.19" width="8.25" height="42.11" fill="#000"/>
<rect x="117.45" y="666.44" width="8.25" height="38.86" fill="url(#hatchS)" stroke="#000" stroke-width="0.9"/>
<rect x="125.9" y="670.46" width="8.05" height="34.84" fill="#bdbdbd" stroke="#000" stroke-width="0.9"/>
<rect x="134.15" y="668.93" width="8.05" height="36.37" fill="#fff" stroke="#000" stroke-width="0.9"/>
<rect x="153.5" y="594.27" width="8.25" height="111.03" fill="#000"/>
<rect x="161.75" y="621.07" width="8.25" height="84.23" fill="url(#hatchS)" stroke="#000" stroke-width="0.9"/>
<rect x="170.2" y="638.3" width="8.05" height="67" fill="#bdbdbd" stroke="#000" stroke-width="0.9"/>
<rect x="178.45" y="622.41" width="8.05" height="82.89" fill="#fff" stroke="#000" stroke-width="0.9"/>
<rect x="197.8" y="667.01" width="8.25" height="38.29" fill="#000"/>
<rect x="206.05" y="674.67" width="8.25" height="30.63" fill="url(#hatchS)" stroke="#000" stroke-width="0.9"/>
<rect x="214.5" y="678.5" width="8.05" height="26.8" fill="#bdbdbd" stroke="#000" stroke-width="0.9"/>
<rect x="222.75" y="653.61" width="8.05" height="51.69" fill="#fff" stroke="#000" stroke-width="0.9"/>
<rect x="286.3" y="644.04" width="8.25" height="61.26" fill="#000"/>
<rect x="294.55" y="649.79" width="8.25" height="55.51" fill="url(#hatchS)" stroke="#000" stroke-width="0.9"/>
<rect x="303" y="661.27" width="8.05" height="44.03" fill="#bdbdbd" stroke="#000" stroke-width="0.9"/>
<rect x="311.25" y="674.1" width="8.05" height="31.2" fill="#fff" stroke="#000" stroke-width="0.9"/>
<rect x="330.8" y="676.59" width="8.25" height="28.71" fill="#000"/>
<rect x="339.05" y="653.61" width="8.25" height="51.69" fill="url(#hatchS)" stroke="#000" stroke-width="0.9"/>
<rect x="347.5" y="659.36" width="8.05" height="45.94" fill="#bdbdbd" stroke="#000" stroke-width="0.9"/>
<rect x="355.75" y="674.67" width="8.05" height="30.63" fill="#fff" stroke="#000" stroke-width="0.9"/>
<rect x="375.3" y="622.41" width="8.25" height="82.89" fill="#000"/>
<rect x="383.55" y="644.04" width="8.25" height="61.26" fill="url(#hatchS)" stroke="#000" stroke-width="0.9"/>
<rect x="392" y="642.13" width="8.05" height="63.17" fill="#bdbdbd" stroke="#000" stroke-width="0.9"/>
<rect x="400.25" y="628.73" width="8.05" height="76.57" fill="#fff" stroke="#000" stroke-width="0.9"/>
<rect x="419.4" y="590.44" width="8.25" height="114.86" fill="#000"/>
<rect x="427.65" y="600.01" width="8.25" height="105.29" fill="url(#hatchS)" stroke="#000" stroke-width="0.9"/>
<rect x="436.1" y="609.59" width="8.05" height="95.71" fill="#bdbdbd" stroke="#000" stroke-width="0.9"/>
<rect x="444.35" y="609.59" width="8.05" height="95.71" fill="#fff" stroke="#000" stroke-width="0.9"/>
<text x="31" y="721.8" font-size="10.4" font-weight="bold">NSG</text>
<text x="82.2" y="721.8" font-size="10.2" text-anchor="middle">1</text>
<text x="120.3" y="721.8" font-size="10.2" text-anchor="middle">2</text>
<text x="160.8" y="721.8" font-size="10.2" text-anchor="middle">3</text>
<text x="204.6" y="721.8" font-size="10.2" text-anchor="middle">4</text>
<text x="297.7" y="721.8" font-size="10.2" text-anchor="middle">1</text>
<text x="343.7" y="721.8" font-size="10.2" text-anchor="middle">2</text>
<text x="386" y="721.8" font-size="10.2" text-anchor="middle">3</text>
<text x="431.4" y="721.8" font-size="10.2" text-anchor="middle">4</text>
<text x="0" y="0" font-size="12.3" font-weight="bold" text-anchor="middle" transform="translate(23.7 472.2) rotate(-90)">% transduced cells</text>
<text x="0" y="0" font-size="12.3" font-weight="bold" text-anchor="middle" transform="translate(26.9 633) rotate(-90)">% transduced cells</text>
<rect x="266.5" y="411.4" width="6.4" height="6.4" fill="#000"/>
<text x="274.3" y="418.8" font-size="10.6">Pre/pro B</text>
<rect x="267" y="424" width="5.4" height="5.4" fill="#fff" stroke="#000" stroke-width="1"/>
<path d="M267 424h4.05L267 428.05z" fill="#000"/>
<path d="M272.4 429.4v-2.43L269.97 429.4z" fill="#000"/>
<text x="274.3" y="430.9" font-size="10.6">Pro B</text>
<rect x="267" y="436.1" width="5.4" height="5.4" fill="#bdbdbd" stroke="#333" stroke-width="1"/>
<text x="274.3" y="443" font-size="10.6">Immature/mature B</text>
<rect x="267" y="448.2" width="5.4" height="5.4" fill="#fff" stroke="#111" stroke-width="1"/>
<text x="274.3" y="455.1" font-size="10.6">Early progenitors</text>
<rect x="267" y="460.3" width="5.4" height="5.4" fill="#3a3a3a" stroke="#111" stroke-width="1"/>
<text x="274.3" y="467.2" font-size="10.6">Myeloid progenitors</text>
<rect x="282.2" y="576.5" width="6.2" height="6.2" fill="#000"/>
<text x="289.8" y="584" font-size="10.5">Pre/pro B</text>
<rect x="282.7" y="589" width="5.2" height="5.2" fill="#fff" stroke="#000" stroke-width="1"/>
<path d="M282.7 589h3.12L282.7 592.12z" fill="#000"/>
<text x="289.8" y="596" font-size="10.5">Pro B</text>
<rect x="282.7" y="601.1" width="5.2" height="5.2" fill="#bdbdbd" stroke="#333" stroke-width="1"/>
<text x="289.8" y="608.1" font-size="10.5">Immature/mature B</text>
<rect x="282.7" y="612.9" width="5.2" height="5.2" fill="#fff" stroke="#111" stroke-width="1"/>
<text x="289.8" y="619.9" font-size="10.5">CD14</text>
</g>
</svg></body></html>
